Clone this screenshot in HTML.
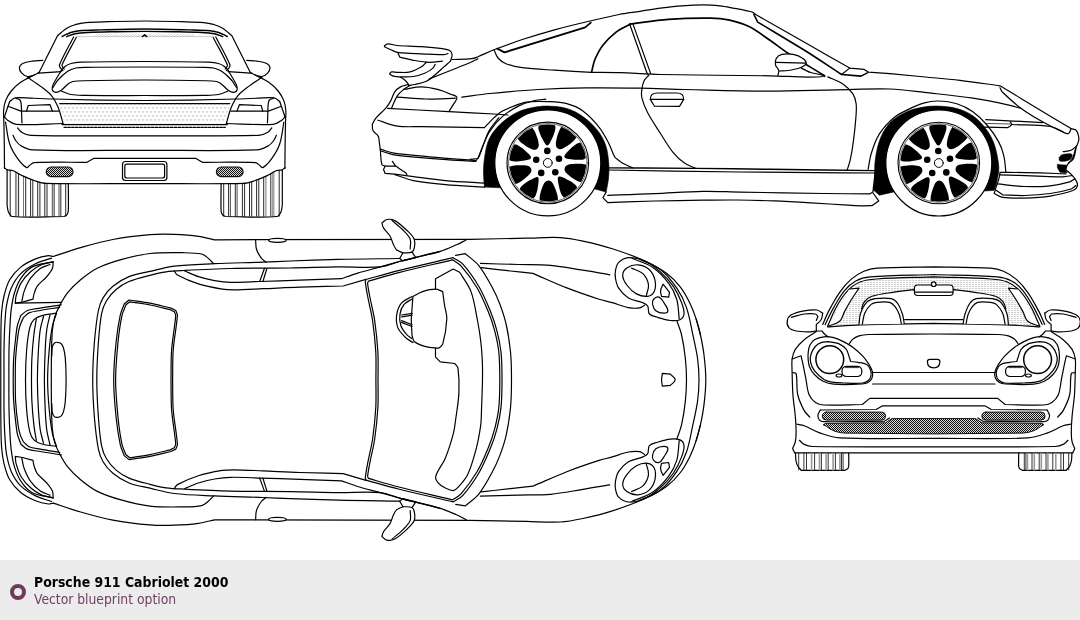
<!DOCTYPE html>
<html lang="en"><head><meta charset="utf-8"><title>Porsche 911 Cabriolet 2000 - vector blueprint</title>
<style>
html,body{margin:0;padding:0;background:#fff;}
body{width:1080px;height:620px;overflow:hidden;position:relative;font-family:"DejaVu Sans Condensed","DejaVu Sans","Liberation Sans",sans-serif;}
#bp{position:absolute;left:0;top:0;width:1080px;height:560px;display:block;}
#bp path,#bp circle,#bp ellipse,#bp rect,#bp line{fill:none;stroke:#000;stroke-width:1.2;stroke-linecap:round;stroke-linejoin:round;}
#bar{position:absolute;left:0;top:560px;width:1080px;height:60px;background:#ececec;}
#dot{position:absolute;left:10px;top:24px;width:8px;height:8px;border:4px solid #6f3a5c;border-radius:50%;}
#t1{position:absolute;left:33.5px;top:13.6px;font-size:13.9px;line-height:16px;font-weight:bold;color:#000;white-space:nowrap;will-change:transform;}
#t2{position:absolute;left:33.5px;top:30.5px;font-size:13.75px;line-height:16px;color:#70405f;white-space:nowrap;will-change:transform;}
</style></head><body>
<svg id="bp" width="1080" height="560" viewBox="0 0 1080 560">
<defs>
<pattern id="mesh" width="2" height="2" patternUnits="userSpaceOnUse"><rect width="2" height="2" style="fill:#d8d8d8;stroke:none"/><rect width="1" height="1" style="fill:#111;stroke:none"/><rect x="1" y="1" width="1" height="1" style="fill:#111;stroke:none"/></pattern>
<pattern id="dots" width="4" height="8" patternUnits="userSpaceOnUse" patternTransform="translate(60.25 107.15)"><rect x="0" y="0" width="1.5" height="1.5" style="fill:#bcbcbc;stroke:none"/><rect x="2" y="4" width="1.5" height="1.5" style="fill:#bcbcbc;stroke:none"/></pattern>
<pattern id="dots2" width="3" height="2" patternUnits="userSpaceOnUse"><rect x="0" y="0" width="1" height="1" style="fill:#c4c4c4;stroke:none"/><rect x="1.5" y="1" width="1" height="1" style="fill:#c4c4c4;stroke:none"/></pattern>
<pattern id="hatch" width="3" height="2" patternUnits="userSpaceOnUse"><rect x="0" y="0" width="2.2" height="1" style="fill:#cfcfcf;stroke:none"/></pattern>
</defs>

<g id="rear">
<path d="M38.7 73.2L57.5 35.8C58.8 34.6 60.1 33.4 61.5 32.3C63.2 30.9 64.8 29.4 66.7 28.3C69.3 26.8 72.1 25.6 75 24.7C78.5 23.7 82.1 22.9 85.8 22.6C93.3 21.9 100.8 21.9 108.3 21.7C120.4 21.4 132.6 21 144.7 21C156.8 21 169 21.4 181.1 21.7C188.6 21.9 196.1 21.9 203.6 22.6C207.3 22.9 210.9 23.7 214.4 24.7C217.3 25.6 220.1 26.8 222.7 28.3C224.6 29.4 226.2 30.9 227.9 32.3C229.3 33.4 230.6 34.6 231.9 35.8L250.7 73.2"/>
<path d="M62.1 36.5C65 35.2 67.8 33.5 70.8 32.5C73.5 31.6 76.4 31.1 79.2 30.8C86.1 30.2 93.1 30.1 100 29.9C114.9 29.5 129.8 29 144.7 29C159.6 29 174.5 29.5 189.4 29.9C196.3 30.1 203.3 30.2 210.2 30.8C213 31.1 215.9 31.6 218.6 32.5C221.6 33.5 224.4 35.2 227.3 36.5" style="stroke-width:1.4"/>
<path d="M66.7 36.7C69.5 35.7 72.1 34.4 75 33.8C79.1 33 83.3 32.7 87.5 32.5C97.2 32 107 31.9 116.7 31.7C126 31.5 135.4 31.4 144.7 31.4C154 31.4 163.4 31.5 172.7 31.7C182.4 31.9 192.2 32 201.9 32.5C206.1 32.7 210.3 33 214.4 33.8C217.3 34.4 219.9 35.7 222.7 36.7" style="stroke-width:1.4"/>
<path d="M76.7 36.6L212.7 36.6" style="stroke:#b5b5b5;stroke-width:0.7"/>
<rect x="95.8" y="34.2" width="97.8" height="2.8" style="fill:url(#dots2);stroke:none"/>
<path d="M142.4 36.6L144.6 34.7L146.8 36.6" style="stroke-width:1.4"/>
<path d="M73.6 36.9C68.9 46.2 63.5 55.3 59.4 64.9C59 65.9 60.1 67 60.4 68L62.9 70.5"/>
<path d="M215.8 36.9C220.5 46.2 225.9 55.3 230 64.9C230.4 65.9 229.3 67 229 68L226.5 70.5"/>
<path d="M76.2 37.4C71.5 46.6 66.1 55.5 62 64.9C61.6 65.8 62.7 66.6 63 67.5L64.2 69"/>
<path d="M213.2 37.4C217.9 46.6 223.3 55.5 227.4 64.9C227.8 65.8 226.7 66.6 226.4 67.5L225.2 69"/>
<path d="M42.7 60.3C39.2 60.6 35.7 60.6 32.3 61.1C29 61.6 25.6 62 22.6 63.5C21.1 64.3 19.5 65.9 19.4 67.6C19.2 69.6 20.4 71.7 21.8 73.2C23.2 74.8 25.2 76.2 27.4 76.5C29.9 76.8 32.4 75.7 34.7 74.8C36.2 74.3 37.4 73.2 38.7 72.4"/>
<path d="M246.7 60.3C250.2 60.6 253.7 60.6 257.1 61.1C260.4 61.6 263.8 62 266.8 63.5C268.3 64.3 269.9 65.9 270 67.6C270.2 69.6 269 71.7 267.6 73.2C266.2 74.8 264.2 76.2 262 76.5C259.5 76.8 257 75.7 254.7 74.8C253.2 74.3 252 73.2 250.7 72.4"/>
<path d="M38.7 73.2L61.3 71.6"/>
<path d="M250.7 73.2L228.1 71.6"/>
<path d="M34.7 74.8C30.1 77.2 25.3 79.2 21 82.1C17.4 84.6 14.1 87.6 11.3 91C8.9 93.9 7 97.1 5.6 100.6C4.4 103.7 3.9 107 3.6 110.3C3.3 113.5 3.7 116.8 3.8 120C4 128.3 4.2 136.7 4.3 145C4.4 152.8 4.4 160.6 4.5 168.4"/>
<path d="M254.7 74.8C259.3 77.2 264.1 79.2 268.4 82.1C272 84.6 275.3 87.6 278.1 91C280.5 93.9 282.4 97.1 283.8 100.6C285 103.7 285.5 107 285.8 110.3C286.1 113.5 285.7 116.8 285.6 120C285.4 128.3 285.2 136.7 285.1 145C285 152.8 285 160.6 284.9 168.4"/>
<path d="M27.4 77.3C31.7 80.2 36.2 82.9 40.3 86.1C44.2 89.1 48.4 92 51.6 95.8C54.4 99.1 56.3 103.1 58 107C59.8 111.2 60.8 115.7 62.1 120C62.4 121.2 62.7 122.3 63 123.5"/>
<path d="M262 77.3C257.7 80.2 253.2 82.9 249.1 86.1C245.2 89.1 241 92 237.8 95.8C235 99.1 233.1 103.1 231.4 107C229.6 111.2 228.6 115.7 227.3 120C227 121.2 226.7 122.3 226.4 123.5"/>
<path d="M61.3 70.5C62.5 69.2 63.5 67.6 65 66.5C66.8 65.2 68.8 64.1 71 63.5C74.1 62.6 77.4 62.3 80.6 62.2C102 61.6 123.3 61.5 144.7 61.5C166.1 61.5 187.4 61.6 208.8 62.2C212 62.3 215.3 62.6 218.4 63.5C220.6 64.1 222.6 65.2 224.4 66.5C225.9 67.6 226.9 69.2 228.1 70.5"/>
<path d="M53 87.5C54.7 85 56 82.2 58 80C60.9 76.8 64.1 73.7 67.7 71.3C70.1 69.7 73 68.7 75.8 68C78.8 67.3 81.9 67.3 85 67.3C104.9 67 124.8 67 144.7 67C164.6 67 184.5 67 204.4 67.3C207.5 67.3 210.6 67.3 213.6 68C216.4 68.7 219.3 69.7 221.7 71.3C225.3 73.7 228.5 76.8 231.4 80C233.4 82.2 234.7 85 236.4 87.5"/>
<path d="M61.3 70.5C58.6 75.2 55.5 79.6 53.2 84.5C52.5 86 51.7 87.8 52.2 89.4C52.6 90.8 54.1 92.2 55.6 92.3C57.6 92.5 59.6 91.3 61.3 90.2C64.3 88.2 66.2 84.7 69.4 82.9C71.8 81.5 74.7 81.1 77.4 81C99.8 80.1 122.3 80 144.7 80C167.1 80 189.6 80.1 212 81C214.7 81.1 217.6 81.5 220 82.9C223.2 84.7 225.1 88.2 228.1 90.2C229.8 91.3 231.8 92.5 233.8 92.3C235.3 92.2 236.8 90.8 237.2 89.4C237.7 87.8 236.9 86 236.2 84.5C233.9 79.6 230.8 75.2 228.1 70.5"/>
<path d="M61.3 91C64.5 92.2 67.6 93.9 71 94.5C75.6 95.4 80.3 95.3 85 95.4C104.9 95.7 124.8 95.5 144.7 95.5C164.6 95.5 184.5 95.7 204.4 95.4C209.1 95.3 213.8 95.4 218.4 94.5C221.8 93.9 224.9 92.2 228.1 91"/>
<path d="M9.7 101.5C11.6 100.3 13.1 98.2 15.3 97.9C20.9 97.1 26.6 98.1 32.3 98.2C39.3 98.5 46.2 98.8 53.2 99C68.8 99.5 84.4 99.9 100 100.2C114.9 100.4 129.8 100.5 144.7 100.5C159.6 100.5 174.5 100.4 189.4 100.2C205 99.9 220.6 99.5 236.2 99C243.2 98.8 250.1 98.5 257.1 98.2C262.8 98.1 268.5 97.1 274.1 97.9C276.3 98.2 277.8 100.3 279.7 101.5"/>
<path d="M9.7 101.5L8 106.3L4.2 117.5"/>
<path d="M279.7 101.5L281.4 106.3L285.2 117.5"/>
<path d="M16 98.4C17.3 98.9 19 98.9 20 100C20.9 101 21.1 102.6 21.2 104C21.7 109.3 21.6 114.7 21.8 120C21.8 121 21.9 122 22 123"/>
<path d="M273.4 98.4C272.1 98.9 270.4 98.9 269.4 100C268.5 101 268.3 102.6 268.2 104C267.7 109.3 267.8 114.7 267.6 120C267.6 121 267.5 122 267.4 123"/>
<path d="M8 106.3L21 111.1L58.5 111.1"/>
<path d="M281.4 106.3L268.4 111.1L230.9 111.1"/>
<path d="M26.6 111.1L28.2 105.5L50 104.7L52.4 111.1"/>
<path d="M262.8 111.1L261.2 105.5L239.4 104.7L237 111.1"/>
<path d="M4.5 117C5.4 118 6.1 119.3 7.3 120C10 121.7 12.8 124.1 16 124.3C31.6 125.3 47.3 123.8 63 123.5"/>
<path d="M284.9 117C284 118 283.3 119.3 282.1 120C279.4 121.7 276.6 124.1 273.4 124.3C257.8 125.3 242.1 123.8 226.4 123.5"/>
<path d="M59.7 103.9L229.7 103.9L226.4 123.5L63 123.5Z" style="fill:url(#dots);stroke:none"/>
<path d="M59.7 103.7L229.7 103.7" style="stroke-dasharray:3.2 0.8"/>
<path d="M62 124.6L227.4 124.6"/>
<path d="M64 127.3L225.4 127.3" style="stroke-dasharray:2.6 1.2"/>
<path d="M17.7 128C19.1 129.5 20.2 131.5 22 132.5C24.6 134 27.6 135.3 30.6 135.4C68.6 136.4 106.7 135.7 144.7 135.8C182.7 135.7 220.8 136.4 258.8 135.4C261.8 135.3 264.8 134 267.4 132.5C269.2 131.5 270.3 129.5 271.7 128"/>
<path d="M13 135.3C14 137.2 14.7 139.3 16 141C17.4 142.8 19 144.7 21 145.8C24.5 147.7 28.3 149.8 32.3 149.9C69.7 151.3 107.2 150.2 144.7 150.3C182.2 150.2 219.7 151.3 257.1 149.9C261.1 149.8 264.9 147.7 268.4 145.8C270.4 144.7 272 142.8 273.4 141C274.7 139.3 275.4 137.2 276.4 135.3"/>
<path d="M5.5 122C6.9 129.3 7.3 136.9 9.7 144C11.5 149.3 14.5 154.2 17.7 158.7C20.1 162.1 22.9 165.6 26.6 167.6C27.8 168.2 28.7 165.9 29.8 165.2C31.1 164.3 32.3 162.8 33.9 162.7C51.6 161.8 69.3 162.4 87 162.3L93.5 158.4L144.7 158.4L195.9 158.4L202.4 162.3C220.1 162.4 237.8 161.8 255.5 162.7C257.1 162.8 258.3 164.3 259.6 165.2C260.7 165.9 261.6 168.2 262.8 167.6C266.5 165.6 269.3 162.1 271.7 158.7C274.9 154.2 277.9 149.3 279.7 144C282.1 136.9 282.5 129.3 283.9 122"/>
<path d="M4.4 167.7L7.1 169.9C9.2 170.2 11.3 170.1 13.3 170.8C16.5 172 19.1 174.2 22.2 175.6C26.5 177.6 31 179.5 35.5 181C38.9 182.1 42.5 183.3 46.1 183.4C79 184.2 111.8 183.5 144.7 183.6C177.6 183.5 210.4 184.2 243.3 183.4C246.9 183.3 250.5 182.1 253.9 181C258.4 179.5 262.9 177.6 267.2 175.6C270.3 174.2 272.9 172 276.1 170.8C278.1 170.1 280.2 170.2 282.3 169.9L285 167.7"/>
<path d="M7.1 169.9L7.1 205C7.5 207.2 7.4 209.5 8.3 211.5C9.2 213.5 10.3 216.3 12.4 216.5C29.5 218 46.7 216.5 63.9 216.5C64.9 215.9 66.1 215.7 66.8 214.8C67.7 213.7 68.2 212.4 68.3 211C68.7 201.9 68.3 192.7 68.3 183.6"/>
<path d="M282.3 169.9L282.3 205C281.9 207.2 282 209.5 281.1 211.5C280.2 213.5 279.1 216.3 277 216.5C259.9 218 242.7 216.5 225.5 216.5C224.5 215.9 223.3 215.7 222.6 214.8C221.7 213.7 221.2 212.4 221.1 211C220.7 201.9 221.1 192.7 221.1 183.6"/>
<path d="M10.2 170.5L10.2 216.2" style="stroke-width:0.85"/>
<path d="M279.2 170.5L279.2 216.2" style="stroke-width:0.85"/>
<path d="M15.5 171.8L15.5 216.2" style="stroke-width:0.475"/>
<path d="M273.9 171.8L273.9 216.2" style="stroke-width:0.475"/>
<path d="M16.7 172.3L16.7 216.2" style="stroke-width:0.475"/>
<path d="M272.7 172.3L272.7 216.2" style="stroke-width:0.475"/>
<path d="M18.6 173.5L18.6 216.2" style="stroke-width:0.85"/>
<path d="M270.8 173.5L270.8 216.2" style="stroke-width:0.85"/>
<path d="M23.5 176.3L23.5 216.2" style="stroke-width:0.55"/>
<path d="M265.9 176.3L265.9 216.2" style="stroke-width:0.55"/>
<path d="M25.7 177.3L25.7 216.2" style="stroke-width:0.85"/>
<path d="M263.7 177.3L263.7 216.2" style="stroke-width:0.85"/>
<path d="M30.6 179.3L30.6 216.2" style="stroke-width:0.85"/>
<path d="M258.8 179.3L258.8 216.2" style="stroke-width:0.85"/>
<path d="M32.8 180L32.8 216.2" style="stroke-width:0.85"/>
<path d="M256.6 180L256.6 216.2" style="stroke-width:0.85"/>
<path d="M37.7 181.7L37.7 216.2" style="stroke-width:0.85"/>
<path d="M251.7 181.7L251.7 216.2" style="stroke-width:0.85"/>
<path d="M39.9 182.2L39.9 216.2" style="stroke-width:0.85"/>
<path d="M249.5 182.2L249.5 216.2" style="stroke-width:0.85"/>
<path d="M44.8 183.2L44.8 216.2" style="stroke-width:0.85"/>
<path d="M244.6 183.2L244.6 216.2" style="stroke-width:0.85"/>
<path d="M47 183.5L47 216.2" style="stroke-width:0.85"/>
<path d="M242.4 183.5L242.4 216.2" style="stroke-width:0.85"/>
<path d="M52.3 183.6L52.3 216.2" style="stroke-width:0.7"/>
<path d="M237.1 183.6L237.1 216.2" style="stroke-width:0.7"/>
<path d="M54.1 183.6L54.1 216.2" style="stroke-width:0.85"/>
<path d="M235.3 183.6L235.3 216.2" style="stroke-width:0.85"/>
<path d="M59 183.6L59 216.2" style="stroke-width:0.7"/>
<path d="M230.4 183.6L230.4 216.2" style="stroke-width:0.7"/>
<path d="M60.8 183.6L60.8 216.2" style="stroke-width:0.85"/>
<path d="M228.6 183.6L228.6 216.2" style="stroke-width:0.85"/>
<path d="M65.7 183.6L65.7 216.2" style="stroke-width:0.85"/>
<path d="M223.7 183.6L223.7 216.2" style="stroke-width:0.85"/>
<rect x="46.3" y="167" width="26.7" height="9.6" rx="4.8" style="fill:url(#mesh);stroke:#111;stroke-width:1.2"/>
<rect x="216.4" y="167" width="26.7" height="9.6" rx="4.8" style="fill:url(#mesh);stroke:#111;stroke-width:1.2"/>
<rect x="122.5" y="161.5" width="44.4" height="19" rx="3"/>
<rect x="124.8" y="164.2" width="39.8" height="13.8" rx="2"/>
</g>
<g id="side">
<path d="M484.4 187.1C484.1 182.4 483.5 177.7 483.5 173C483.5 168 483.7 162.9 484.5 158C485.6 151.4 486.4 144.4 489.4 138.4C492.5 132.2 497.2 126.9 502.3 122.3C507 118 512.6 114.6 518.4 111.8C523 109.6 528 108.5 533 107.5C537.7 106.6 542.6 106 547.4 106.1C553.9 106.3 560.6 106.7 566.8 108.5C572.6 110.2 578 113.1 582.9 116.6C588.3 120.5 593.2 125.1 597.4 130.3C600.9 134.6 603.7 139.6 605.5 144.8C607.5 150.5 608.2 156.6 608.7 162.6C609.2 167.8 609 173.2 608.5 178.4C608.1 183 606.9 187.5 606.1 192.1L595 189L501 187.8L484.4 187.1Z" style="fill:#000;stroke:#000;stroke-width:0.6"/>
<path d="M873.7 190.3C874 187 874.3 183.6 874.5 180.3C874.9 173.3 874.3 166.3 875.3 159.4C876.4 151.7 877.9 143.9 881 136.8C883.6 130.8 887.5 125.1 892.3 120.6C896.8 116.3 902.7 113.6 908.4 111C912.7 109.1 917.4 108.1 922 107.3C927.1 106.4 932.3 105.9 937.4 106.1C943.9 106.3 950.5 106.8 956.8 108.5C962.5 110.1 968.1 112.4 972.9 115.8C977.9 119.3 982.1 123.9 985.8 128.7C989.2 133.1 992 138 993.9 143.2C996.2 149.4 997.3 156.1 998.4 162.6C998.9 165.6 999 168.6 998.7 171.6C998.2 176 997.1 180.2 996.1 184.5C995.6 186.5 994.8 188.4 994.2 190.3L984.5 191L893.9 191.9L879.4 195.2L873.7 190.3Z" style="fill:#000;stroke:#000;stroke-width:0.6"/>
<circle cx="547.8" cy="162.9" r="53" style="fill:#fff;stroke-width:1.2"/>
<circle cx="547.8" cy="162.9" r="40.8" style="stroke-width:1.1"/>
<circle cx="547.8" cy="162.9" r="39.3" style="stroke-width:0.6"/>
<path d="M17.5 0C17.8 0.5 17.9 1.1 18.3 1.5C19.1 2.2 20.1 2.7 21 3.2C22.2 3.9 23.5 4.5 24.7 5.1C25.8 5.6 26.9 6.2 28 6.6C29.3 7.1 30.6 7.6 32 8C33.1 8.3 34.3 8.6 35.5 8.6C36.2 8.6 36.8 8.3 37.5 8.2C37.7 6.9 37.9 5.5 38.1 4.2C38.3 2.8 38.5 1.4 38.5 0C38.5 -1.4 38.3 -2.8 38.1 -4.2C37.9 -5.5 37.7 -6.9 37.5 -8.2C36.8 -8.3 36.2 -8.6 35.5 -8.6C34.3 -8.6 33.1 -8.3 32 -8C30.6 -7.6 29.3 -7.1 28 -6.6C26.9 -6.2 25.8 -5.6 24.7 -5.1C23.5 -4.5 22.2 -3.9 21 -3.2C20.1 -2.7 19.1 -2.2 18.3 -1.5C17.9 -1.1 17.8 -0.5 17.5 0Z" transform="translate(547.8 162.9) rotate(-91.5)" style="fill:#000;stroke:none"/>
<path d="M17.6 0C17.8 0.7 17.8 1.5 18.2 2.2C18.6 2.9 19.3 3.5 20 4C20.9 4.7 22 5.1 23 5.6C24.1 6.1 25.3 6.6 26.5 7C27.7 7.4 28.8 7.8 30 8.1C31.3 8.5 32.6 8.8 34 9C35.1 9.2 36.3 9.1 37.4 9.2C37.6 7.5 37.9 5.9 38.1 4.2C38.3 2.8 38.5 1.4 38.5 0C38.5 -1.4 38.3 -2.8 38.1 -4.2C37.9 -5.9 37.6 -7.5 37.4 -9.2C36.3 -9.1 35.1 -9.2 34 -9C32.6 -8.8 31.3 -8.5 30 -8.1C28.8 -7.8 27.7 -7.4 26.5 -7C25.3 -6.6 24.1 -6.1 23 -5.6C22 -5.1 20.9 -4.7 20 -4C19.3 -3.5 18.6 -2.9 18.2 -2.2C17.8 -1.5 17.8 -0.7 17.6 0Z" transform="translate(547.8 162.9) rotate(-55.5)" style="fill:#000;stroke:none"/>
<path d="M17.5 0C17.8 0.5 17.9 1.1 18.3 1.5C19.1 2.2 20.1 2.7 21 3.2C22.2 3.9 23.5 4.5 24.7 5.1C25.8 5.6 26.9 6.2 28 6.6C29.3 7.1 30.6 7.6 32 8C33.1 8.3 34.3 8.6 35.5 8.6C36.2 8.6 36.8 8.3 37.5 8.2C37.7 6.9 37.9 5.5 38.1 4.2C38.3 2.8 38.5 1.4 38.5 0C38.5 -1.4 38.3 -2.8 38.1 -4.2C37.9 -5.5 37.7 -6.9 37.5 -8.2C36.8 -8.3 36.2 -8.6 35.5 -8.6C34.3 -8.6 33.1 -8.3 32 -8C30.6 -7.6 29.3 -7.1 28 -6.6C26.9 -6.2 25.8 -5.6 24.7 -5.1C23.5 -4.5 22.2 -3.9 21 -3.2C20.1 -2.7 19.1 -2.2 18.3 -1.5C17.9 -1.1 17.8 -0.5 17.5 0Z" transform="translate(547.8 162.9) rotate(-19.5)" style="fill:#000;stroke:none"/>
<path d="M17.6 0C17.8 0.7 17.8 1.5 18.2 2.2C18.6 2.9 19.3 3.5 20 4C20.9 4.7 22 5.1 23 5.6C24.1 6.1 25.3 6.6 26.5 7C27.7 7.4 28.8 7.8 30 8.1C31.3 8.5 32.6 8.8 34 9C35.1 9.2 36.3 9.1 37.4 9.2C37.6 7.5 37.9 5.9 38.1 4.2C38.3 2.8 38.5 1.4 38.5 0C38.5 -1.4 38.3 -2.8 38.1 -4.2C37.9 -5.9 37.6 -7.5 37.4 -9.2C36.3 -9.1 35.1 -9.2 34 -9C32.6 -8.8 31.3 -8.5 30 -8.1C28.8 -7.8 27.7 -7.4 26.5 -7C25.3 -6.6 24.1 -6.1 23 -5.6C22 -5.1 20.9 -4.7 20 -4C19.3 -3.5 18.6 -2.9 18.2 -2.2C17.8 -1.5 17.8 -0.7 17.6 0Z" transform="translate(547.8 162.9) rotate(16.5)" style="fill:#000;stroke:none"/>
<path d="M17.5 0C17.8 0.5 17.9 1.1 18.3 1.5C19.1 2.2 20.1 2.7 21 3.2C22.2 3.9 23.5 4.5 24.7 5.1C25.8 5.6 26.9 6.2 28 6.6C29.3 7.1 30.6 7.6 32 8C33.1 8.3 34.3 8.6 35.5 8.6C36.2 8.6 36.8 8.3 37.5 8.2C37.7 6.9 37.9 5.5 38.1 4.2C38.3 2.8 38.5 1.4 38.5 0C38.5 -1.4 38.3 -2.8 38.1 -4.2C37.9 -5.5 37.7 -6.9 37.5 -8.2C36.8 -8.3 36.2 -8.6 35.5 -8.6C34.3 -8.6 33.1 -8.3 32 -8C30.6 -7.6 29.3 -7.1 28 -6.6C26.9 -6.2 25.8 -5.6 24.7 -5.1C23.5 -4.5 22.2 -3.9 21 -3.2C20.1 -2.7 19.1 -2.2 18.3 -1.5C17.9 -1.1 17.8 -0.5 17.5 0Z" transform="translate(547.8 162.9) rotate(52.5)" style="fill:#000;stroke:none"/>
<path d="M17.6 0C17.8 0.7 17.8 1.5 18.2 2.2C18.6 2.9 19.3 3.5 20 4C20.9 4.7 22 5.1 23 5.6C24.1 6.1 25.3 6.6 26.5 7C27.7 7.4 28.8 7.8 30 8.1C31.3 8.5 32.6 8.8 34 9C35.1 9.2 36.3 9.1 37.4 9.2C37.6 7.5 37.9 5.9 38.1 4.2C38.3 2.8 38.5 1.4 38.5 0C38.5 -1.4 38.3 -2.8 38.1 -4.2C37.9 -5.9 37.6 -7.5 37.4 -9.2C36.3 -9.1 35.1 -9.2 34 -9C32.6 -8.8 31.3 -8.5 30 -8.1C28.8 -7.8 27.7 -7.4 26.5 -7C25.3 -6.6 24.1 -6.1 23 -5.6C22 -5.1 20.9 -4.7 20 -4C19.3 -3.5 18.6 -2.9 18.2 -2.2C17.8 -1.5 17.8 -0.7 17.6 0Z" transform="translate(547.8 162.9) rotate(88.5)" style="fill:#000;stroke:none"/>
<path d="M17.5 0C17.8 0.5 17.9 1.1 18.3 1.5C19.1 2.2 20.1 2.7 21 3.2C22.2 3.9 23.5 4.5 24.7 5.1C25.8 5.6 26.9 6.2 28 6.6C29.3 7.1 30.6 7.6 32 8C33.1 8.3 34.3 8.6 35.5 8.6C36.2 8.6 36.8 8.3 37.5 8.2C37.7 6.9 37.9 5.5 38.1 4.2C38.3 2.8 38.5 1.4 38.5 0C38.5 -1.4 38.3 -2.8 38.1 -4.2C37.9 -5.5 37.7 -6.9 37.5 -8.2C36.8 -8.3 36.2 -8.6 35.5 -8.6C34.3 -8.6 33.1 -8.3 32 -8C30.6 -7.6 29.3 -7.1 28 -6.6C26.9 -6.2 25.8 -5.6 24.7 -5.1C23.5 -4.5 22.2 -3.9 21 -3.2C20.1 -2.7 19.1 -2.2 18.3 -1.5C17.9 -1.1 17.8 -0.5 17.5 0Z" transform="translate(547.8 162.9) rotate(124.5)" style="fill:#000;stroke:none"/>
<path d="M17.6 0C17.8 0.7 17.8 1.5 18.2 2.2C18.6 2.9 19.3 3.5 20 4C20.9 4.7 22 5.1 23 5.6C24.1 6.1 25.3 6.6 26.5 7C27.7 7.4 28.8 7.8 30 8.1C31.3 8.5 32.6 8.8 34 9C35.1 9.2 36.3 9.1 37.4 9.2C37.6 7.5 37.9 5.9 38.1 4.2C38.3 2.8 38.5 1.4 38.5 0C38.5 -1.4 38.3 -2.8 38.1 -4.2C37.9 -5.9 37.6 -7.5 37.4 -9.2C36.3 -9.1 35.1 -9.2 34 -9C32.6 -8.8 31.3 -8.5 30 -8.1C28.8 -7.8 27.7 -7.4 26.5 -7C25.3 -6.6 24.1 -6.1 23 -5.6C22 -5.1 20.9 -4.7 20 -4C19.3 -3.5 18.6 -2.9 18.2 -2.2C17.8 -1.5 17.8 -0.7 17.6 0Z" transform="translate(547.8 162.9) rotate(160.5)" style="fill:#000;stroke:none"/>
<path d="M17.5 0C17.8 0.5 17.9 1.1 18.3 1.5C19.1 2.2 20.1 2.7 21 3.2C22.2 3.9 23.5 4.5 24.7 5.1C25.8 5.6 26.9 6.2 28 6.6C29.3 7.1 30.6 7.6 32 8C33.1 8.3 34.3 8.6 35.5 8.6C36.2 8.6 36.8 8.3 37.5 8.2C37.7 6.9 37.9 5.5 38.1 4.2C38.3 2.8 38.5 1.4 38.5 0C38.5 -1.4 38.3 -2.8 38.1 -4.2C37.9 -5.5 37.7 -6.9 37.5 -8.2C36.8 -8.3 36.2 -8.6 35.5 -8.6C34.3 -8.6 33.1 -8.3 32 -8C30.6 -7.6 29.3 -7.1 28 -6.6C26.9 -6.2 25.8 -5.6 24.7 -5.1C23.5 -4.5 22.2 -3.9 21 -3.2C20.1 -2.7 19.1 -2.2 18.3 -1.5C17.9 -1.1 17.8 -0.5 17.5 0Z" transform="translate(547.8 162.9) rotate(196.5)" style="fill:#000;stroke:none"/>
<path d="M17.6 0C17.8 0.7 17.8 1.5 18.2 2.2C18.6 2.9 19.3 3.5 20 4C20.9 4.7 22 5.1 23 5.6C24.1 6.1 25.3 6.6 26.5 7C27.7 7.4 28.8 7.8 30 8.1C31.3 8.5 32.6 8.8 34 9C35.1 9.2 36.3 9.1 37.4 9.2C37.6 7.5 37.9 5.9 38.1 4.2C38.3 2.8 38.5 1.4 38.5 0C38.5 -1.4 38.3 -2.8 38.1 -4.2C37.9 -5.9 37.6 -7.5 37.4 -9.2C36.3 -9.1 35.1 -9.2 34 -9C32.6 -8.8 31.3 -8.5 30 -8.1C28.8 -7.8 27.7 -7.4 26.5 -7C25.3 -6.6 24.1 -6.1 23 -5.6C22 -5.1 20.9 -4.7 20 -4C19.3 -3.5 18.6 -2.9 18.2 -2.2C17.8 -1.5 17.8 -0.7 17.6 0Z" transform="translate(547.8 162.9) rotate(232.5)" style="fill:#000;stroke:none"/>
<circle cx="547.3" cy="150.9" r="3.3" style="fill:#000;stroke:none"/>
<circle cx="559.0" cy="158.7" r="3.3" style="fill:#000;stroke:none"/>
<circle cx="555.3" cy="172.3" r="3.3" style="fill:#000;stroke:none"/>
<circle cx="541.2" cy="172.9" r="3.3" style="fill:#000;stroke:none"/>
<circle cx="536.2" cy="159.7" r="3.3" style="fill:#000;stroke:none"/>
<circle cx="547.8" cy="162.9" r="4.4" style="fill:#fff;stroke-width:1"/>
<circle cx="938.8" cy="163" r="53" style="fill:#fff;stroke-width:1.2"/>
<circle cx="938.8" cy="163" r="40.8" style="stroke-width:1.1"/>
<circle cx="938.8" cy="163" r="39.3" style="stroke-width:0.6"/>
<path d="M17.5 0C17.8 0.5 17.9 1.1 18.3 1.5C19.1 2.2 20.1 2.7 21 3.2C22.2 3.9 23.5 4.5 24.7 5.1C25.8 5.6 26.9 6.2 28 6.6C29.3 7.1 30.6 7.6 32 8C33.1 8.3 34.3 8.6 35.5 8.6C36.2 8.6 36.8 8.3 37.5 8.2C37.7 6.9 37.9 5.5 38.1 4.2C38.3 2.8 38.5 1.4 38.5 0C38.5 -1.4 38.3 -2.8 38.1 -4.2C37.9 -5.5 37.7 -6.9 37.5 -8.2C36.8 -8.3 36.2 -8.6 35.5 -8.6C34.3 -8.6 33.1 -8.3 32 -8C30.6 -7.6 29.3 -7.1 28 -6.6C26.9 -6.2 25.8 -5.6 24.7 -5.1C23.5 -4.5 22.2 -3.9 21 -3.2C20.1 -2.7 19.1 -2.2 18.3 -1.5C17.9 -1.1 17.8 -0.5 17.5 0Z" transform="translate(938.8 163) rotate(-91.5)" style="fill:#000;stroke:none"/>
<path d="M17.6 0C17.8 0.7 17.8 1.5 18.2 2.2C18.6 2.9 19.3 3.5 20 4C20.9 4.7 22 5.1 23 5.6C24.1 6.1 25.3 6.6 26.5 7C27.7 7.4 28.8 7.8 30 8.1C31.3 8.5 32.6 8.8 34 9C35.1 9.2 36.3 9.1 37.4 9.2C37.6 7.5 37.9 5.9 38.1 4.2C38.3 2.8 38.5 1.4 38.5 0C38.5 -1.4 38.3 -2.8 38.1 -4.2C37.9 -5.9 37.6 -7.5 37.4 -9.2C36.3 -9.1 35.1 -9.2 34 -9C32.6 -8.8 31.3 -8.5 30 -8.1C28.8 -7.8 27.7 -7.4 26.5 -7C25.3 -6.6 24.1 -6.1 23 -5.6C22 -5.1 20.9 -4.7 20 -4C19.3 -3.5 18.6 -2.9 18.2 -2.2C17.8 -1.5 17.8 -0.7 17.6 0Z" transform="translate(938.8 163) rotate(-55.5)" style="fill:#000;stroke:none"/>
<path d="M17.5 0C17.8 0.5 17.9 1.1 18.3 1.5C19.1 2.2 20.1 2.7 21 3.2C22.2 3.9 23.5 4.5 24.7 5.1C25.8 5.6 26.9 6.2 28 6.6C29.3 7.1 30.6 7.6 32 8C33.1 8.3 34.3 8.6 35.5 8.6C36.2 8.6 36.8 8.3 37.5 8.2C37.7 6.9 37.9 5.5 38.1 4.2C38.3 2.8 38.5 1.4 38.5 0C38.5 -1.4 38.3 -2.8 38.1 -4.2C37.9 -5.5 37.7 -6.9 37.5 -8.2C36.8 -8.3 36.2 -8.6 35.5 -8.6C34.3 -8.6 33.1 -8.3 32 -8C30.6 -7.6 29.3 -7.1 28 -6.6C26.9 -6.2 25.8 -5.6 24.7 -5.1C23.5 -4.5 22.2 -3.9 21 -3.2C20.1 -2.7 19.1 -2.2 18.3 -1.5C17.9 -1.1 17.8 -0.5 17.5 0Z" transform="translate(938.8 163) rotate(-19.5)" style="fill:#000;stroke:none"/>
<path d="M17.6 0C17.8 0.7 17.8 1.5 18.2 2.2C18.6 2.9 19.3 3.5 20 4C20.9 4.7 22 5.1 23 5.6C24.1 6.1 25.3 6.6 26.5 7C27.7 7.4 28.8 7.8 30 8.1C31.3 8.5 32.6 8.8 34 9C35.1 9.2 36.3 9.1 37.4 9.2C37.6 7.5 37.9 5.9 38.1 4.2C38.3 2.8 38.5 1.4 38.5 0C38.5 -1.4 38.3 -2.8 38.1 -4.2C37.9 -5.9 37.6 -7.5 37.4 -9.2C36.3 -9.1 35.1 -9.2 34 -9C32.6 -8.8 31.3 -8.5 30 -8.1C28.8 -7.8 27.7 -7.4 26.5 -7C25.3 -6.6 24.1 -6.1 23 -5.6C22 -5.1 20.9 -4.7 20 -4C19.3 -3.5 18.6 -2.9 18.2 -2.2C17.8 -1.5 17.8 -0.7 17.6 0Z" transform="translate(938.8 163) rotate(16.5)" style="fill:#000;stroke:none"/>
<path d="M17.5 0C17.8 0.5 17.9 1.1 18.3 1.5C19.1 2.2 20.1 2.7 21 3.2C22.2 3.9 23.5 4.5 24.7 5.1C25.8 5.6 26.9 6.2 28 6.6C29.3 7.1 30.6 7.6 32 8C33.1 8.3 34.3 8.6 35.5 8.6C36.2 8.6 36.8 8.3 37.5 8.2C37.7 6.9 37.9 5.5 38.1 4.2C38.3 2.8 38.5 1.4 38.5 0C38.5 -1.4 38.3 -2.8 38.1 -4.2C37.9 -5.5 37.7 -6.9 37.5 -8.2C36.8 -8.3 36.2 -8.6 35.5 -8.6C34.3 -8.6 33.1 -8.3 32 -8C30.6 -7.6 29.3 -7.1 28 -6.6C26.9 -6.2 25.8 -5.6 24.7 -5.1C23.5 -4.5 22.2 -3.9 21 -3.2C20.1 -2.7 19.1 -2.2 18.3 -1.5C17.9 -1.1 17.8 -0.5 17.5 0Z" transform="translate(938.8 163) rotate(52.5)" style="fill:#000;stroke:none"/>
<path d="M17.6 0C17.8 0.7 17.8 1.5 18.2 2.2C18.6 2.9 19.3 3.5 20 4C20.9 4.7 22 5.1 23 5.6C24.1 6.1 25.3 6.6 26.5 7C27.7 7.4 28.8 7.8 30 8.1C31.3 8.5 32.6 8.8 34 9C35.1 9.2 36.3 9.1 37.4 9.2C37.6 7.5 37.9 5.9 38.1 4.2C38.3 2.8 38.5 1.4 38.5 0C38.5 -1.4 38.3 -2.8 38.1 -4.2C37.9 -5.9 37.6 -7.5 37.4 -9.2C36.3 -9.1 35.1 -9.2 34 -9C32.6 -8.8 31.3 -8.5 30 -8.1C28.8 -7.8 27.7 -7.4 26.5 -7C25.3 -6.6 24.1 -6.1 23 -5.6C22 -5.1 20.9 -4.7 20 -4C19.3 -3.5 18.6 -2.9 18.2 -2.2C17.8 -1.5 17.8 -0.7 17.6 0Z" transform="translate(938.8 163) rotate(88.5)" style="fill:#000;stroke:none"/>
<path d="M17.5 0C17.8 0.5 17.9 1.1 18.3 1.5C19.1 2.2 20.1 2.7 21 3.2C22.2 3.9 23.5 4.5 24.7 5.1C25.8 5.6 26.9 6.2 28 6.6C29.3 7.1 30.6 7.6 32 8C33.1 8.3 34.3 8.6 35.5 8.6C36.2 8.6 36.8 8.3 37.5 8.2C37.7 6.9 37.9 5.5 38.1 4.2C38.3 2.8 38.5 1.4 38.5 0C38.5 -1.4 38.3 -2.8 38.1 -4.2C37.9 -5.5 37.7 -6.9 37.5 -8.2C36.8 -8.3 36.2 -8.6 35.5 -8.6C34.3 -8.6 33.1 -8.3 32 -8C30.6 -7.6 29.3 -7.1 28 -6.6C26.9 -6.2 25.8 -5.6 24.7 -5.1C23.5 -4.5 22.2 -3.9 21 -3.2C20.1 -2.7 19.1 -2.2 18.3 -1.5C17.9 -1.1 17.8 -0.5 17.5 0Z" transform="translate(938.8 163) rotate(124.5)" style="fill:#000;stroke:none"/>
<path d="M17.6 0C17.8 0.7 17.8 1.5 18.2 2.2C18.6 2.9 19.3 3.5 20 4C20.9 4.7 22 5.1 23 5.6C24.1 6.1 25.3 6.6 26.5 7C27.7 7.4 28.8 7.8 30 8.1C31.3 8.5 32.6 8.8 34 9C35.1 9.2 36.3 9.1 37.4 9.2C37.6 7.5 37.9 5.9 38.1 4.2C38.3 2.8 38.5 1.4 38.5 0C38.5 -1.4 38.3 -2.8 38.1 -4.2C37.9 -5.9 37.6 -7.5 37.4 -9.2C36.3 -9.1 35.1 -9.2 34 -9C32.6 -8.8 31.3 -8.5 30 -8.1C28.8 -7.8 27.7 -7.4 26.5 -7C25.3 -6.6 24.1 -6.1 23 -5.6C22 -5.1 20.9 -4.7 20 -4C19.3 -3.5 18.6 -2.9 18.2 -2.2C17.8 -1.5 17.8 -0.7 17.6 0Z" transform="translate(938.8 163) rotate(160.5)" style="fill:#000;stroke:none"/>
<path d="M17.5 0C17.8 0.5 17.9 1.1 18.3 1.5C19.1 2.2 20.1 2.7 21 3.2C22.2 3.9 23.5 4.5 24.7 5.1C25.8 5.6 26.9 6.2 28 6.6C29.3 7.1 30.6 7.6 32 8C33.1 8.3 34.3 8.6 35.5 8.6C36.2 8.6 36.8 8.3 37.5 8.2C37.7 6.9 37.9 5.5 38.1 4.2C38.3 2.8 38.5 1.4 38.5 0C38.5 -1.4 38.3 -2.8 38.1 -4.2C37.9 -5.5 37.7 -6.9 37.5 -8.2C36.8 -8.3 36.2 -8.6 35.5 -8.6C34.3 -8.6 33.1 -8.3 32 -8C30.6 -7.6 29.3 -7.1 28 -6.6C26.9 -6.2 25.8 -5.6 24.7 -5.1C23.5 -4.5 22.2 -3.9 21 -3.2C20.1 -2.7 19.1 -2.2 18.3 -1.5C17.9 -1.1 17.8 -0.5 17.5 0Z" transform="translate(938.8 163) rotate(196.5)" style="fill:#000;stroke:none"/>
<path d="M17.6 0C17.8 0.7 17.8 1.5 18.2 2.2C18.6 2.9 19.3 3.5 20 4C20.9 4.7 22 5.1 23 5.6C24.1 6.1 25.3 6.6 26.5 7C27.7 7.4 28.8 7.8 30 8.1C31.3 8.5 32.6 8.8 34 9C35.1 9.2 36.3 9.1 37.4 9.2C37.6 7.5 37.9 5.9 38.1 4.2C38.3 2.8 38.5 1.4 38.5 0C38.5 -1.4 38.3 -2.8 38.1 -4.2C37.9 -5.9 37.6 -7.5 37.4 -9.2C36.3 -9.1 35.1 -9.2 34 -9C32.6 -8.8 31.3 -8.5 30 -8.1C28.8 -7.8 27.7 -7.4 26.5 -7C25.3 -6.6 24.1 -6.1 23 -5.6C22 -5.1 20.9 -4.7 20 -4C19.3 -3.5 18.6 -2.9 18.2 -2.2C17.8 -1.5 17.8 -0.7 17.6 0Z" transform="translate(938.8 163) rotate(232.5)" style="fill:#000;stroke:none"/>
<circle cx="938.3" cy="151.0" r="3.3" style="fill:#000;stroke:none"/>
<circle cx="950.0" cy="158.8" r="3.3" style="fill:#000;stroke:none"/>
<circle cx="946.3" cy="172.4" r="3.3" style="fill:#000;stroke:none"/>
<circle cx="932.2" cy="173.0" r="3.3" style="fill:#000;stroke:none"/>
<circle cx="927.2" cy="159.8" r="3.3" style="fill:#000;stroke:none"/>
<circle cx="938.8" cy="163" r="4.4" style="fill:#fff;stroke-width:1"/>
<path d="M450.5 61.1C451 59 452.3 56.9 452.1 54.7C452 53.1 451 51.4 449.7 50.6C447.6 49.3 444.9 49.1 442.4 48.7C435.5 47.7 428.5 47.1 421.5 46.6C413.4 46 405.3 46.1 397.3 45.5C394 45.2 390.9 43.8 387.6 43.9C386.4 43.9 385.5 45.2 384.4 45.8L384.6 46.8C386.7 47.8 388.7 48.9 390.8 49.8C393.5 50.9 396.1 52.3 398.9 52.7C406.4 53.7 414 53.6 421.5 53.9C429 54.2 436.5 54.8 444 54.7C445.4 54.7 446.7 53.9 448 53.5"/>
<path d="M398 53L399.7 57.1C404.3 58.2 408.8 59.5 413.4 60.3C418.7 61.2 424.1 62.2 429.5 62.3C433.8 62.4 438.1 61.5 442.4 61.1"/>
<path d="M426.3 62.3C424.7 63.8 423.4 65.7 421.5 66.8C418 68.9 414.2 71 410.2 71.9C406 72.9 401.6 72.4 397.3 72.4C395.4 72.4 393.5 71.5 391.6 71.9C390.6 72.1 390.2 73.3 389.5 74C390.7 74.7 391.8 75.7 393.2 76.1C395.6 76.8 398.2 76.5 400.5 77.3C402.3 78 403.9 79.2 405.3 80.5C406.6 81.6 407.4 83.2 408.5 84.5"/>
<path d="M435.2 64.4C434.4 65.7 433.9 67.4 432.7 68.4C430.3 70.4 427.6 72 424.7 73.2C421.1 74.7 417.3 75.9 413.4 76.5C409.1 77.2 404.8 76.8 400.5 76.9"/>
<path d="M450.5 61.1C448.3 63 446.2 64.9 444 66.8C441.3 69.2 438.8 71.7 436 74C432.9 76.6 429.9 79.5 426.3 81.3C422.8 83.1 418.8 83.6 415 84.5C412.9 85 410.7 85 408.5 85.3"/>
<path d="M452.1 59.5C458.6 59.2 465.1 59.4 471.5 58.7C473.7 58.5 475.8 57.6 477.9 56.8C483.3 54.6 488.5 51.9 494 49.8C503.4 46.2 512.8 42.7 522.3 39.5C532.9 36 543.7 32.8 554.5 29.8C566.3 26.6 578.1 23.8 590 21C599.6 18.7 609.3 16.4 619 14.5C626 13.2 633 12.4 640 11.3C646.8 10.3 653.5 9 660.3 8.1C667.5 7.2 674.7 6.3 682 5.8C689.3 5.2 696.6 4.8 703.9 4.8C709.3 4.8 714.7 5.3 720 5.9C724.3 6.4 728.6 7.3 732.9 8.1C736.9 8.8 741 9.5 745 10.3C747.5 10.8 749.9 11.5 752.3 12.1L756.1 14.8C772.2 24 788.4 33.1 804.5 42.3C819.6 50.9 834.6 59.5 849.7 68.1L864.2 69.4L868.2 72.1L890 73.7"/>
<path d="M429.5 78.9C437.6 75.7 445.6 72.4 453.7 69.2C459.1 67 464.5 65 469.8 62.7C472.6 61.5 475.2 60 477.9 58.7"/>
<path d="M494 49.8C495.3 52.5 496 55.7 498 58C500.1 60.5 503 62.5 506 63.7C511.2 65.8 516.8 67 522.3 67.7C533 69.1 543.8 69.5 554.5 70.2C566.9 71 579.2 71.6 591.6 72.3"/>
<path d="M497.3 48.6L504.5 52.4L585.2 27.4L590.8 22.6" style="stroke-width:1.8"/>
<path d="M591.6 72C592.7 67.9 593.2 63.6 594.8 59.7C597 54.6 599.5 49.6 602.9 45.2C606.6 40.4 611 36 615.8 32.3C620.2 28.9 625.5 26.9 630.3 24.2" style="stroke-width:1.7"/>
<path d="M629.7 24.2L647.4 74.2"/>
<path d="M632.9 23.9L650.6 73.4"/>
<path d="M629.7 24.2C642.6 22.6 655.4 20.4 668.4 19.4C682.3 18.3 696.3 17.9 710.3 18.1C716.8 18.2 723.3 18.8 729.7 20.2C736.3 21.7 742.9 23.6 749 26.6C756.5 30.3 763.1 35.6 770 40.3C776.2 44.6 782.1 49.4 788.4 53.5C800 61.1 812.1 68 823.9 75.3" style="stroke-width:1.7"/>
<path d="M591.6 72.3C601.1 72.4 610.5 72.3 620 72.6C629.1 72.9 638.3 73.5 647.4 73.9C651.7 74.1 656 74.4 660.3 74.5C696.9 75.1 733.4 75.4 770 75.8C788 76 806 78.2 823.9 76.5C829.1 76 814 73.5 809 72"/>
<path d="M753.9 14.5L757.7 22.1C773.3 31.5 789.1 40.7 804.5 50.3C817 58.1 829.2 66.4 841.6 74.5L861 76.1L867.4 72.9" style="stroke-width:1.6"/>
<path d="M841.6 74.5L849.7 68.1"/>
<path d="M777.9 75.3C778.2 73.7 779.1 72.1 778.7 70.5C778.2 68.4 775.9 66.9 775.5 64.8C775.1 62.7 775.2 60.2 776.3 58.4C777.5 56.4 779.7 54.9 781.9 54.4C785.6 53.5 789.5 53.7 793.2 54.4C796.6 55.1 800 56.4 802.9 58.4C804.5 59.5 806.4 61.3 806.1 63.2C805.7 65.3 803.2 66.5 801.3 67.3C797.2 69 792.8 69.8 788.4 70.5C785.2 71 781.9 70.8 778.7 71" style="fill:#fff"/>
<path d="M776.3 62.4L806.1 63.2"/>
<path d="M801.3 68.1L809.4 72.1"/>
<path d="M408.5 84.5C405.8 85.3 403 85.6 400.5 86.9C398.3 88.1 396.2 89.8 394.8 91.8C392.9 94.4 392.3 97.8 390.8 100.6C389.4 103.2 387.9 105.7 386 107.9C383 111.4 379.3 114.2 376.3 117.7C374.7 119.6 373.6 122 372.3 124.2C372.5 126.3 372.1 128.6 373 130.6C373.8 132.4 375.8 133.2 377.1 134.7C377.7 135.4 378.2 136.3 378.7 137.1C379.2 141.4 379.8 145.7 380.3 150C380.9 154.8 380.5 159.8 381.9 164.5C382.3 165.7 384.1 165.6 385.2 166.1L383.5 169.4L385.2 173.4L394.8 174.2C401 175 407.2 175.8 413.4 176.6C424.1 178 434.8 179.6 445.6 180.6C458.5 181.8 471.5 182.3 484.4 183.1"/>
<path d="M410 85.5C407.9 86.8 405.6 87.8 403.7 89.4C401.4 91.3 399 93.3 397.3 95.8C394.9 99.5 393.5 103.9 391.6 107.9"/>
<path d="M403.7 89.4C409.6 88.6 415.5 86.9 421.5 86.9C426.9 86.9 432.3 88.1 437.6 89.4C442 90.5 446.3 92.4 450.5 94.2C452.7 95.1 456.2 95.1 456.9 97.4C457.7 99.7 454.8 101.7 453.7 103.9L448.9 111.6"/>
<path d="M397.3 97.1C407 97.7 416.6 98.8 426.3 99C436 99.2 445.6 98.5 455.3 98.2"/>
<path d="M387.6 108.4C408 109.5 428.5 110.5 448.9 111.6C463.9 112.4 479 113.1 494 114C498.7 114.3 503.3 114.7 508 115"/>
<path d="M461.8 97.1C471.2 95.9 480.6 94.4 490 93.5C506.1 91.9 522.2 90.4 538.4 89.5C554.5 88.6 570.7 88.1 586.8 87.9C604.5 87.7 622.3 87.9 640 88.2C654.8 88.4 669.7 89.2 684.5 89.5C713 90.1 741.5 91 770 91.1C792.3 91.1 814.5 90.2 836.8 89.8C854.5 89.5 872.3 88.5 890 89C901.6 89.3 913 91.1 924.5 92.4C940.6 94.2 956.8 95.7 972.9 98.1C985.4 100 997.7 102.6 1010 105.3C1013.7 106.1 1017.3 107.4 1021 108.5"/>
<path d="M377.9 120.2C384.4 122.2 390.6 125.1 397.3 126.1C405.3 127.3 413.4 126.5 421.5 126.6C442.5 127 463.4 127.3 484.4 127.7L494 117.7C496.7 115.6 499 113 502 111.3C506.1 108.9 510.6 107.3 515 105.6C518.8 104.2 522.5 102.6 526.5 102.1C533.4 101.2 540.4 101.3 547.4 101.6C553.9 101.9 560.5 102 566.8 103.7C572.5 105.2 578.1 107.5 582.9 111C589 115.5 594.3 121.2 599 127.1C602.9 132 605.8 137.7 608.7 143.2C610.6 146.8 611.8 150.8 613.5 154.5C613.9 155.5 614.5 156.4 615 157.4C617.4 159.3 619.7 161.4 622.3 163C625.6 165 629.2 166.3 632.7 167.9"/>
<path d="M470 159.4L478 158.5C479.1 155.6 480.1 152.6 481.3 149.7C483.9 143.7 485.9 137.4 489.4 131.9C493 126.3 497.3 121 502.3 116.6C507.1 112.3 512.7 109 518.4 106.1C523.5 103.6 529 101.9 534.5 100.5C538.2 99.6 542 99.6 545.8 99.2"/>
<path d="M380.3 149.2C384.9 150.5 389.3 152.5 394 153.2C405.8 155 417.7 155.7 429.5 156.8C445.1 158.2 460.7 159.3 476.3 160.5L479.5 155.6C480.6 152.7 481.6 149.7 482.7 146.8C484.8 141.4 486.4 135.7 489.2 130.6C491.8 125.9 495.7 122 498.9 117.7"/>
<path d="M381 151C385.3 152.3 389.5 154.1 394 154.8C405.8 156.6 417.6 157.4 429.5 158.4C445 159.7 460.5 160.5 476 161.5"/>
<path d="M385.2 166.1L395.6 166.1L392.4 161.3"/>
<path d="M395.6 166.1C398.8 168.3 402.2 170.3 405.3 172.6C406 173.1 406.4 173.9 406.9 174.5"/>
<path d="M394.8 174.6C401 176.6 407 179.3 413.4 180.6C424 182.7 434.8 183.7 445.6 184.7C458.5 185.9 471.5 186.3 484.4 187.1"/>
<path d="M649 75C647.4 76.9 645.3 78.4 644.2 80.6C642.8 83.4 642.2 86.6 641.8 89.7C641.4 92.3 641.2 95.1 641.8 97.7C643.1 102.8 645 107.7 647.4 112.3C651.2 119.6 655.9 126.3 660.3 133.2C664.5 139.7 668.3 146.6 673.2 152.6C676.4 156.6 680.3 160.2 684.5 163.1C687.9 165.5 692 166.6 695.8 168.4"/>
<path d="M650.3 99.4C650.3 95 653 93 657 93L677 93C681 93 683.7 95 683.7 99.4L679.5 106.4L654.5 106.2Z"/>
<path d="M650.3 99.4L683.7 99.4"/>
<path d="M827.9 76.9C833 79.3 838.5 81 843.2 84.2C847 86.8 850.4 90.1 852.9 93.9C854.8 96.7 855.6 100.2 856.1 103.5C856.7 107.7 856.3 111.9 856 116.1C855.4 124.2 854.6 132.3 853.5 140.3C852.7 146.8 851.7 153.3 850.3 159.7C849.5 163.3 848.2 166.7 847.1 170.2"/>
<path d="M608.5 167.9C637.6 168.1 666.7 168.1 695.8 168.4C720.5 168.6 745.3 169 770 169.3C805.1 169.7 840.2 170.2 875.3 170.6" style="stroke-width:1.4"/>
<path d="M608.5 170C652.3 170.7 696.2 171.5 740 172C785.1 172.5 830.2 172.7 875.3 173"/>
<path d="M606.1 192.1L602.9 197.7L607.7 202.6C623.3 202.1 638.9 201.4 654.5 201C670.6 200.6 686.8 200.4 702.9 200.2C714.3 200.1 725.6 199.9 737 200C749.3 200.1 761.7 200.4 774 200.9C786.3 201.4 798.7 202.1 811 202.8C823.3 203.5 835.7 204.5 848 205.2C852.7 205.5 857.3 205.7 862 205.8C865.4 205.9 868.8 205.7 872.2 205.6L878.7 200.9L873.1 193"/>
<path d="M607.7 195.3C623.3 194.8 638.9 194.4 654.5 193.7C670.6 193 686.7 191.6 702.9 191.3C715.3 191.1 727.6 191.9 740 192.1C768.2 192.6 796.3 193.1 824.5 193.5C839.6 193.7 854.6 193.8 869.7 193.9L872.9 191.9L875.3 171"/>
<path d="M868.1 169.4C869.2 164 869.6 158.4 871.3 153.2C873.4 146.6 875.7 139.8 879.4 133.9C883.3 127.8 888.4 122.4 893.9 117.7C898.2 114.1 903.4 111.8 908.4 109.4C913.6 106.9 918.9 104.5 924.5 102.9C928.7 101.7 933.1 100.9 937.4 101C943.9 101.2 950.6 101.8 956.8 103.7C962.5 105.4 968 108.3 972.9 111.8C978.3 115.7 983.1 120.5 987.4 125.5C991.7 130.5 995.5 136.1 998.7 141.9C1001.1 146.3 1002.7 151.2 1003.9 156.1C1005.1 161.2 1005.2 166.4 1005.8 171.6"/>
<path d="M890 73.7C900 74.6 910 75.5 920 76.5C933.3 77.8 946.7 78.9 960 80.4C973.4 82 986.7 84 1000 85.8L1001.3 86.5C1024.5 100.5 1047.6 114.7 1071 128.4C1072.6 129.3 1074.8 129.1 1076.1 130.3C1077.4 131.5 1077.9 133.3 1078.3 135C1078.8 136.8 1079 138.8 1078.7 140.6C1078.3 142.9 1076.9 144.9 1076.1 147.1C1074.7 150.9 1074.1 155.1 1072.3 158.7C1071.1 161.2 1068.5 162.8 1067.1 165.2C1066.3 166.5 1066.2 168.2 1065.8 169.7C1067.5 171.2 1069.4 172.5 1071 174.2C1072.9 176.2 1074.8 178.2 1076.1 180.6C1077 182.2 1077.9 184.1 1077.4 185.8C1076.9 187.7 1075.4 189.6 1073.5 190.3C1066 193.1 1058.2 194.8 1050.3 196.1C1041.8 197.5 1033.1 197.9 1024.5 198.1C1017.2 198.3 1009.8 198.5 1002.6 197.4C999.5 196.9 997 194.8 994.2 193.5C994.8 191.4 995.4 189.2 996.1 187.1C996.9 184.5 998 182 998.7 179.4C999.3 177.3 999.6 175.1 1000 172.9"/>
<path d="M1000 87.7C1000.9 89.2 1001.3 91.1 1002.6 92.3C1008.7 98.2 1015 104 1021.9 109C1028.9 114.1 1036.4 118.4 1043.9 122.6C1050.2 126.1 1056.6 129.4 1063.2 132.3C1064.8 133 1066.8 134.2 1068.4 133.5C1070 132.8 1070.1 130.5 1071 129"/>
<path d="M985.8 119.6L1042.6 122.6"/>
<path d="M984.5 127.1L1007.7 127.7C1009 126.6 1010.9 126 1011.6 124.5C1012 123.6 1010.7 122.8 1010.3 121.9"/>
<path d="M985.8 123.4L1010.3 124" style="stroke-width:0.7"/>
<path d="M1011.6 124.5C1024.5 125.2 1037.5 124.7 1050.3 126.5C1054.9 127.2 1058.9 130 1063.2 131.8"/>
<path d="M1000 172.3C1008.2 172.4 1016.3 172.4 1024.5 172.6C1035.3 172.8 1046 173.1 1056.8 173.5C1059.9 173.6 1062.9 173.8 1066 174"/>
<path d="M1000 174.8C1012.5 175.2 1024.9 175.7 1037.4 176.1C1046 176.4 1054.6 176.9 1063.2 176.8C1066.3 176.7 1069.3 175.9 1072.3 175.5"/>
<path d="M997.4 183.9C1006.4 184.8 1015.4 186.2 1024.5 186.5C1033.1 186.8 1041.7 186.7 1050.3 185.8C1056.9 185.1 1063.4 183.7 1069.7 181.9C1071.6 181.3 1073.1 179.8 1074.8 178.7"/>
<path d="M996.1 190.3L1002.6 194.8C1009.9 195 1017.2 195.7 1024.5 195.5C1033.1 195.3 1041.8 194.7 1050.3 193.5C1057.3 192.5 1064.3 191.1 1071 189C1072.9 188.4 1074.3 186.7 1076 185.5"/>
<path d="M1059.4 157.4C1060.2 156.5 1060.8 155.2 1061.9 154.8C1064.8 153.9 1068 153.6 1071 153.8C1071.7 153.8 1071.9 154.9 1072.3 155.5C1071.6 156.8 1071.5 158.6 1070.3 159.4C1068.2 160.7 1065.6 161.1 1063.2 161.3C1061.9 161.4 1060.3 161.4 1059.4 160.5C1058.7 159.8 1059.4 158.4 1059.4 157.4Z" style="fill:#000;stroke:#000;stroke-width:0.6"/>
<path d="M1057.4 164.5L1067.1 165.2L1065.8 169.7L1067.1 172.9L1060 172.3L1057.4 167.7L1057.4 164.5Z" style="fill:#000;stroke:#000;stroke-width:0.6"/>
<path d="M1063.2 151.6C1065.8 151.2 1068.6 151.3 1071 150.3C1073.3 149.3 1074.9 147.3 1076.8 145.8"/>
<path d="M1076 148C1075.2 151.6 1075.1 155.4 1073.5 158.7C1072.5 160.7 1070.1 161.7 1068.4 163.2"/>
</g>
<g id="top">
<path d="M53.2 256.5C51.6 256.2 50 255.4 48.4 255.6C44 256.2 39.6 257.2 35.5 258.9C30.4 261 25.3 263.4 21 266.9C16.6 270.5 12.6 274.9 9.7 279.8C6.8 284.7 5.4 290.4 4 296C2.7 301.3 2 306.7 1.6 312.1C1 319.7 1 327.4 0.9 335C0.7 349.9 0.8 364.9 0.8 379.8C0.8 394.7 0.7 409.7 0.9 424.6C1 432.2 1 439.9 1.6 447.5C2 452.9 2.7 458.3 4 463.6C5.4 469.2 6.8 474.9 9.7 479.8C12.6 484.7 16.6 489.1 21 492.7C25.3 496.2 30.4 498.6 35.5 500.7C39.6 502.4 44 503.4 48.4 504C50 504.2 51.6 503.4 53.2 503.1"/>
<path d="M51.6 258.1C46.2 260 40.6 261.2 35.5 263.7C30.3 266.3 25.1 269.3 21 273.4C16.9 277.5 13.7 282.6 11.3 287.9C8.8 293.5 7.6 299.6 6.5 305.6C5.4 312 5.2 318.5 4.8 325C4.3 333.3 4.1 341.7 4 350C3.9 359.9 4 369.9 4 379.8C4 389.7 3.9 399.7 4 409.6C4.1 417.9 4.3 426.3 4.8 434.6C5.2 441.1 5.4 447.6 6.5 454C7.6 460 8.8 466.1 11.3 471.7C13.7 477 16.9 482.1 21 486.2C25.1 490.3 30.3 493.3 35.5 495.9C40.6 498.4 46.2 499.6 51.6 501.5"/>
<path d="M53.2 261.8C46.2 263.5 38.7 263.6 32.3 266.9C27.6 269.3 24 273.8 21 278.2C18 282.6 16.1 287.6 14.5 292.7C12.8 297.9 12.1 303.4 11.3 308.9C10.6 314.2 10.3 319.6 10 325C9.5 333.3 9.2 341.7 9 350C8.8 359.9 8.9 369.9 8.9 379.8C8.9 389.7 8.8 399.7 9 409.6C9.2 417.9 9.5 426.3 10 434.6C10.3 440 10.6 445.4 11.3 450.7C12.1 456.2 12.8 461.7 14.5 466.9C16.1 472 18 477 21 481.4C24 485.8 27.6 490.3 32.3 492.7C38.7 496 46.2 496.1 53.2 497.8"/>
<path d="M53.2 256.5C62.3 253.5 71.4 250.2 80.6 247.6C91.3 244.6 102 241.5 112.9 239.5C125.2 237.2 137.6 235.7 150 234.7C158 234 166.1 234.1 174.2 234.4C182.3 234.7 190.4 235.2 198.4 236.3C203.8 237 209.1 238.6 214.5 239.8L470 239.3C488.8 238.9 507.7 238.6 526.5 238.2C537.8 238 549 237 560.3 237.6C567.9 238 575.4 239.5 582.9 241.1C592.8 243.2 602.7 245.6 612.3 248.7C623.2 252.2 634.1 256 644.5 260.8C652.4 264.4 660.1 268.6 667.1 273.7C672 277.3 676.3 281.8 680 286.6C683.9 291.5 686.9 297.1 689.7 302.7C692.3 307.9 694.3 313.4 696.1 318.9C697.9 324.2 699 329.6 700.5 335"/>
<path d="M53.2 503.1C62.3 506.1 71.4 509.4 80.6 512C91.3 515 102 518.1 112.9 520.1C125.2 522.4 137.6 523.9 150 524.9C158 525.6 166.1 525.5 174.2 525.2C182.3 524.9 190.4 524.4 198.4 523.3C203.8 522.6 209.1 521 214.5 519.8L470 520.3C488.8 520.7 507.7 521 526.5 521.4C537.8 521.6 549 522.6 560.3 522C567.9 521.6 575.4 520.1 582.9 518.5C592.8 516.4 602.7 514 612.3 510.9C623.2 507.4 634.1 503.6 644.5 498.8C652.4 495.2 660.1 491 667.1 485.9C672 482.3 676.3 477.8 680 473C683.9 468.1 686.9 462.5 689.7 456.9C692.3 451.7 694.3 446.2 696.1 440.7C697.9 435.4 699 430 700.5 424.6"/>
<path d="M696.1 318.9C697.6 324.3 699.3 329.6 700.5 335C701.9 341.6 703.2 348.3 704 355C705 363.2 705.8 371.5 705.8 379.8C705.8 388.1 705 396.4 704 404.6C703.2 411.3 701.9 418 700.5 424.6C699.3 430 697.6 435.3 696.1 440.7"/>
<path d="M639.7 259.2C646.7 262.7 654.5 264.9 660.6 269.7C667.1 274.7 672.2 281.4 676.8 288.2C680.9 294.2 684.1 300.8 686.5 307.6C689.6 316.5 690.9 325.8 692.9 335C694.6 342.6 696.4 350.3 697.5 358C698.5 365.2 699 372.5 699 379.8C699 387.1 698.5 394.4 697.5 401.6C696.4 409.3 694.6 417 692.9 424.6C690.9 433.8 689.6 443.1 686.5 452C684.1 458.8 680.9 465.4 676.8 471.4C672.2 478.2 667.1 484.9 660.6 489.9C654.5 494.7 646.7 496.9 639.7 500.4"/>
<path d="M676.8 320.5C678.4 325.3 680.5 330 681.6 335C683.3 342.6 684.5 350.3 685.3 358C686.1 365.2 686.5 372.5 686.5 379.8C686.5 387.1 686.1 394.4 685.3 401.6C684.5 409.3 683.3 417 681.6 424.6C680.5 429.6 678.4 434.3 676.8 439.1"/>
<path d="M53.2 261.8C52.9 264 53.3 266.4 52.4 268.5C51.1 271.5 48.9 274.1 46.8 276.6C43.8 280.1 39.8 282.6 37.1 286.3C35.4 288.7 34.8 291.6 33.9 294.4C33.4 296 33.3 297.6 33 299.2L22.6 302.1L15.3 303.2C15.6 300.8 15.4 298.3 16.1 296C17.4 291.6 18.6 287 21 283.1C23.5 278.9 26.9 275.1 30.6 271.8C33.9 268.8 37.8 266.3 41.9 264.5C45.4 262.9 49.4 262.7 53.2 261.8"/>
<path d="M53.2 497.8C52.9 495.6 53.3 493.2 52.4 491.1C51.1 488.1 48.9 485.5 46.8 483C43.8 479.5 39.8 477 37.1 473.3C35.4 470.9 34.8 468 33.9 465.2C33.4 463.6 33.3 462 33 460.4L22.6 457.5L15.3 456.4C15.6 458.8 15.4 461.3 16.1 463.6C17.4 468 18.6 472.6 21 476.5C23.5 480.7 26.9 484.5 30.6 487.8C33.9 490.8 37.8 493.3 41.9 495.1C45.4 496.7 49.4 496.9 53.2 497.8"/>
<path d="M50 264.5C46.8 265.8 43.2 266.5 40.3 268.5C36.6 271.1 33.3 274.5 30.6 278.2C27.8 282.1 25.9 286.6 24.2 291.1C22.9 294.5 22.6 298.1 21.8 301.6"/>
<path d="M50 495.1C46.8 493.8 43.2 493.1 40.3 491.1C36.6 488.5 33.3 485.1 30.6 481.4C27.8 477.5 25.9 473 24.2 468.5C22.9 465.1 22.6 461.5 21.8 458"/>
<path d="M15.3 303.2L61.3 302.4"/>
<path d="M213.7 263.7C211.8 261.8 210.1 259.8 208 258.1C206 256.5 204.1 254.5 201.6 254C195.3 252.7 188.7 252.8 182.3 252.7C171.5 252.6 160.7 252.3 150 253.5C140.2 254.6 130.5 257 121 259.7C112.7 262 104.5 264.7 96.8 268.5C90.9 271.4 85.7 275.6 80.6 279.8C75.9 283.7 71.5 288 67.7 292.7C64.5 296.6 62.1 301.1 59.7 305.6C57.8 309.2 56 313 54.8 316.9C53.5 321.2 52.8 325.6 52.4 330C51.7 337.3 51.7 344.7 51.5 352C51.3 361.3 51.3 370.5 51.3 379.8C51.3 389.1 51.3 398.3 51.5 407.6C51.7 414.9 51.7 422.3 52.4 429.6C52.8 434 53.5 438.4 54.8 442.7C56 446.6 57.8 450.4 59.7 454C62.1 458.5 64.5 463 67.7 466.9C71.5 471.6 75.9 475.9 80.6 479.8C85.7 484 90.9 488.2 96.8 491.1C104.5 494.9 112.7 497.6 121 499.9C130.5 502.6 140.2 505 150 506.1C160.7 507.3 171.5 507 182.3 506.9C188.7 506.8 195.3 506.9 201.6 505.6C204.1 505.1 206 503.1 208 501.5C210.1 499.8 211.8 497.8 213.7 495.9"/>
<path d="M61.3 304.8C54.3 305.9 47.3 306.9 40.3 308.1C36 308.8 31.5 309 27.4 310.5C24.9 311.4 23.1 313.7 21 315.3C19.8 318.5 18.4 321.7 17.5 325C16.7 328 16.5 331.1 16.1 334.2C15.2 342.3 14.2 350.3 13.7 358.4C13.2 365.5 13.2 372.7 13.2 379.8C13.2 386.9 13.2 394.1 13.7 401.2C14.2 409.3 15.2 417.3 16.1 425.4C16.5 428.5 16.7 431.6 17.5 434.6C18.4 437.9 19.8 441.1 21 444.3C23.1 445.9 24.9 448.2 27.4 449.1C31.5 450.6 36 450.8 40.3 451.5C47.3 452.7 54.3 453.7 61.3 454.8"/>
<path d="M59.7 307.3C53.2 308.4 46.7 309.3 40.3 310.5C36.5 311.2 32.5 311.4 29 312.9C26.7 313.9 25.3 316.1 23.4 317.7C22.3 320.1 21 322.5 20.2 325C19.2 328 18.5 331.1 18.1 334.2C17 342.2 16.1 350.3 15.6 358.4C15.2 365.5 15.3 372.7 15.3 379.8C15.3 386.9 15.2 394.1 15.6 401.2C16.1 409.3 17 417.4 18.1 425.4C18.5 428.5 19.2 431.6 20.2 434.6C21 437.1 22.3 439.5 23.4 441.9C25.3 443.5 26.7 445.7 29 446.7C32.5 448.2 36.5 448.4 40.3 449.1C46.7 450.3 53.2 451.2 59.7 452.3"/>
<path d="M56.5 313.2C51.6 314 46.6 314.2 41.9 315.6C39 316.4 36 317.6 33.9 319.7C31.8 321.8 30.5 324.8 29.8 327.7C28 335.1 27.2 342.7 26.6 350.3C25.8 360.1 25.5 370 25.5 379.8C25.5 389.6 25.8 399.5 26.6 409.3C27.2 416.9 28 424.5 29.8 431.9C30.5 434.8 31.8 437.8 33.9 439.9C36 442 39 443.2 41.9 444C46.6 445.4 51.6 445.6 56.5 446.4"/>
<path d="M36.3 319.2C35.5 324.2 34.5 329.2 33.9 334.2C33 342.2 32.3 350.3 31.9 358.4C31.5 365.5 31.5 372.7 31.5 379.8C31.5 386.9 31.5 394.1 31.9 401.2C32.3 409.3 33 417.4 33.9 425.4C34.5 430.4 35.5 435.4 36.3 440.4"/>
<path d="M43.5 316.5C42.4 320.8 41 325 40.3 329.4C39.3 336.3 38.8 343.3 38.4 350.3C37.8 360.1 37.4 370 37.4 379.8C37.4 389.6 37.8 399.5 38.4 409.3C38.8 416.3 39.3 423.3 40.3 430.2C41 434.6 42.4 438.8 43.5 443.1"/>
<path d="M50 314.8C48.9 319.7 47.5 324.5 46.8 329.4C45.9 336.3 45.5 343.3 45.2 350.3C44.7 360.1 44.4 370 44.4 379.8C44.4 389.6 44.7 399.5 45.2 409.3C45.5 416.3 45.9 423.3 46.8 430.2C47.5 435.1 48.9 439.9 50 444.8"/>
<path d="M56.5 313.2C55.1 317.5 53.3 321.7 52.4 326.1C50.8 334.1 49.9 342.2 49.2 350.3C48.3 360.1 47.6 370 47.6 379.8C47.6 389.6 48.3 399.5 49.2 409.3C49.9 417.4 50.8 425.5 52.4 433.5C53.3 437.9 55.1 442.1 56.5 446.4"/>
<path d="M51.8 356C52 353 51.7 349.9 52.3 347C52.6 345.5 53.4 344 54.5 343C55.2 342.3 56.3 342.2 57.3 342.3C58.6 342.4 60 342.6 61 343.5C62.3 344.7 63 346.4 63.5 348C64.5 351.4 65 354.9 65.3 358.4C65.9 365.5 66.1 372.7 66.1 379.8C66.1 386.9 65.9 394.1 65.3 401.2C65 404.7 64.5 408.2 63.5 411.6C63 413.2 62.3 414.9 61 416.1C60 417 58.6 417.2 57.3 417.3C56.3 417.4 55.2 417.3 54.5 416.6C53.4 415.6 52.6 414.1 52.3 412.6C51.7 409.7 52 406.6 51.8 403.6"/>
<path d="M440.3 251.3C427.3 254.5 414.3 257.6 401.3 261C394.3 262.8 387.5 266.2 380.3 266.9C366.4 268.2 352.4 266.7 338.4 266.9C322.3 267.1 306.1 267.8 290 268C270.2 268.3 250.4 268 230.6 268.5C215 268.9 199.5 269.7 183.9 270.5C178 270.8 172 271 166.1 271.8C160.7 272.6 155.3 273.9 150 275.3C142.9 277.1 135.7 278.7 129 281.5C124.3 283.5 119.9 286.2 116.1 289.5C112.3 292.7 109 296.6 106.5 300.8C104.1 304.7 102.5 309.2 101.6 313.7C99.8 323.1 99.1 332.7 98.4 342.3C97.5 354.8 96.8 367.3 96.8 379.8C96.8 392.3 97.5 404.8 98.4 417.3C99.1 426.9 99.8 436.5 101.6 445.9C102.5 450.4 104.1 454.9 106.5 458.8C109 463 112.3 466.9 116.1 470.1C119.9 473.4 124.3 476.1 129 478.1C135.7 480.9 142.9 482.5 150 484.3C155.3 485.7 160.7 487 166.1 487.8C172 488.6 178 488.8 183.9 489.1C199.5 489.9 215 490.7 230.6 491.1C250.4 491.6 270.2 491.3 290 491.6C306.1 491.8 322.3 492.5 338.4 492.7C352.4 492.9 366.4 491.4 380.3 492.7C387.5 493.4 394.3 496.8 401.3 498.6C414.3 502 427.3 505.1 440.3 508.3"/>
<path d="M399.7 258.5C379.3 258.8 358.8 258.9 338.4 259.4C322.3 259.8 306.1 260.4 290 261C281 261.3 271.9 261.8 262.9 262.1C246.8 262.7 230.6 263 214.5 263.7C201.1 264.3 187.6 264.5 174.2 266.1C166 267.1 158 269.5 150 271.4C143 273 135.7 273.9 129 276.6C123.2 278.9 117.8 282.3 112.9 286.3C109.1 289.4 105.8 293.3 103.2 297.6C100.8 301.5 99.3 306 98.4 310.5C96.3 321 95.3 331.7 94.4 342.3C93.4 354.8 92.7 367.3 92.7 379.8C92.7 392.3 93.4 404.8 94.4 417.3C95.3 427.9 96.3 438.6 98.4 449.1C99.3 453.6 100.8 458.1 103.2 462C105.8 466.3 109.1 470.2 112.9 473.3C117.8 477.3 123.2 480.7 129 483C135.7 485.7 143 486.6 150 488.2C158 490.1 166 492.5 174.2 493.5C187.6 495.1 201.1 495.3 214.5 495.9C230.6 496.6 246.8 496.9 262.9 497.5C271.9 497.8 281 498.3 290 498.6C306.1 499.2 322.3 499.8 338.4 500.2C358.8 500.7 379.3 500.8 399.7 501.1"/>
<path d="M172.6 379.8C172.8 369.9 172.5 359.9 173.2 350C174.1 338.4 176.6 326.9 177.4 315.3C177.5 313.6 176.3 312.1 175.8 310.5L171 308.1C164 306.5 157.1 304.6 150 303.2C143 301.9 136 301.1 129 300L124.2 304C122.9 307.8 121 311.4 120.2 315.3C118.3 324.2 117 333.2 116.1 342.3C114.8 354.8 113.7 367.3 113.7 379.8C113.7 392.3 114.8 404.8 116.1 417.3C117 426.4 118.3 435.4 120.2 444.3C121 448.2 122.9 451.8 124.2 455.6L129 459.6C136 458.5 143 457.7 150 456.4C157.1 455 164 453.1 171 451.5L175.8 449.1C176.3 447.5 177.5 446 177.4 444.3C176.6 432.7 174.1 421.2 173.2 409.6C172.5 399.7 172.8 389.7 172.6 379.8"/>
<path d="M171 379.8C171.2 369.9 170.9 359.9 171.6 350C172.4 338.5 174.9 327.1 175.7 315.6C175.8 314.3 174.8 313.1 174.3 311.8L170.2 309.7C163.5 308.1 156.8 306.3 150 305C143.3 303.7 136.5 302.9 129.8 301.8L126 304.8C124.7 308.3 122.8 311.6 122 315.3C120.1 324.2 118.9 333.2 118 342.3C116.8 354.8 115.6 367.3 115.6 379.8C115.6 392.3 116.8 404.8 118 417.3C118.9 426.4 120.1 435.4 122 444.3C122.8 448 124.7 451.3 126 454.8L129.8 457.8C136.5 456.7 143.3 455.9 150 454.6C156.8 453.3 163.5 451.5 170.2 449.9L174.3 447.8C174.8 446.5 175.8 445.3 175.7 444C174.9 432.5 172.4 421.1 171.6 409.6C170.9 399.7 171.2 389.7 171 379.8"/>
<path d="M174.2 271C175.3 272.3 175.9 274.2 177.4 275C184.1 278.6 191.1 281.6 198.4 283.9C206.3 286.4 214.5 287.8 222.6 289.2C226.3 289.8 230.1 289.8 233.9 289.8C243.6 289.7 253.2 289.1 262.9 288.7C275.3 288.2 287.6 287.5 300 287.1C314.4 286.6 328.8 286.4 343.2 286L366 279.3"/>
<path d="M174.2 488.6C175.3 487.3 175.9 485.4 177.4 484.6C184.1 481 191.1 478 198.4 475.7C206.3 473.2 214.5 471.8 222.6 470.4C226.3 469.8 230.1 469.8 233.9 469.8C243.6 469.9 253.2 470.5 262.9 470.9C275.3 471.4 287.6 472.1 300 472.5C314.4 473 328.8 473.2 343.2 473.6L366 480.3"/>
<path d="M184.7 271C189.3 272.9 193.7 275.1 198.4 276.6C203.7 278.3 209.1 279.6 214.5 280.6C219.8 281.5 225.2 282.2 230.6 282.3C240.3 282.5 250 281.8 259.7 281.5C273.1 281.1 286.6 280.7 300 280.2C313.9 279.7 327.7 279.2 341.6 278.7C347 276.8 352.3 274.8 357.7 273.1C365.2 270.8 372.8 269 380.3 266.9C387.3 265 394.3 262.8 401.3 261C414.3 257.6 427.4 255.1 440.3 251.3C445.9 249.7 451.2 247.1 456.5 244.8C459.8 243.4 462.9 241.6 466.1 240"/>
<path d="M184.7 488.6C189.3 486.7 193.7 484.5 198.4 483C203.7 481.3 209.1 480 214.5 479C219.8 478.1 225.2 477.4 230.6 477.3C240.3 477.1 250 477.8 259.7 478.1C273.1 478.5 286.6 478.9 300 479.4C313.9 479.9 327.7 480.4 341.6 480.9C347 482.8 352.3 484.8 357.7 486.5C365.2 488.8 372.8 490.6 380.3 492.7C387.3 494.6 394.3 496.8 401.3 498.6C414.3 502 427.4 504.5 440.3 508.3C445.9 509.9 451.2 512.5 456.5 514.8C459.8 516.2 462.9 518 466.1 519.6"/>
<path d="M264.5 268.2L259.7 281.5"/>
<path d="M264.5 491.4L259.7 478.1"/>
<path d="M266.9 268.5L262.9 281.5"/>
<path d="M266.9 491.1L262.9 478.1"/>
<path d="M255.6 240C255.9 243.1 255.6 246.3 256.5 249.2C257.5 252.4 259.3 255.4 261.3 258.1C262.5 259.8 264.5 260.8 266.1 262.1"/>
<path d="M255.6 519.6C255.9 516.5 255.6 513.3 256.5 510.4C257.5 507.2 259.3 504.2 261.3 501.5C262.5 499.8 264.5 498.8 266.1 497.5"/>
<ellipse cx="277.4" cy="240.3" rx="8.8" ry="2" style="fill:#fff"/>
<ellipse cx="277.4" cy="519.3" rx="8.8" ry="2" style="fill:#fff"/>
<path d="M381.9 223.1C383.5 221.9 384.8 219.9 386.8 219.5C389.4 219 392.4 219.3 394.8 220.6C399.6 223.3 403.7 227.3 407.7 231.1C410.2 233.5 412.9 236 414.2 239.2C415.2 241.7 414.9 244.6 414.4 247.3C414.1 249.1 413.4 251.3 411.8 252.1C409.1 253.4 405.9 252.6 402.9 252.9C400.8 251.8 398.3 251.3 396.5 249.7C394.9 248.2 394.1 246 393.2 244C392 241.4 391.5 238.5 390 236C388.2 233 385.3 230.8 383.5 227.9C382.6 226.5 382.4 224.7 381.9 223.1Z" style="fill:#fff"/>
<path d="M381.9 536.5C383.5 537.7 384.8 539.7 386.8 540.1C389.4 540.6 392.4 540.3 394.8 539C399.6 536.3 403.7 532.3 407.7 528.5C410.2 526.1 412.9 523.6 414.2 520.4C415.2 517.9 414.9 515 414.4 512.3C414.1 510.5 413.4 508.3 411.8 507.5C409.1 506.2 405.9 507 402.9 506.7C400.8 507.8 398.3 508.3 396.5 509.9C394.9 511.4 394.1 513.6 393.2 515.6C392 518.2 391.5 521.1 390 523.6C388.2 526.6 385.3 528.8 383.5 531.7C382.6 533.1 382.4 534.9 381.9 536.5Z" style="fill:#fff"/>
<path d="M392 220.5C395.8 223.8 400 226.9 403.5 230.5C406.1 233.1 408.9 235.8 410.2 239.2C411.3 242.2 410.2 245.7 410.2 248.9"/>
<path d="M392 539.1C395.8 535.8 400 532.7 403.5 529.1C406.1 526.5 408.9 523.8 410.2 520.4C411.3 517.4 410.2 513.9 410.2 510.7"/>
<path d="M402.9 252.9L399.7 258.5L402.9 261L415.8 257.7L412.2 252.3"/>
<path d="M402.9 506.7L399.7 501.1L402.9 498.6L415.8 501.9L412.2 507.3"/>
<path d="M375.9 379.8C375.9 370.6 376.3 361.5 375.8 352.3C375.2 341.7 374.1 331.1 372.6 320.6C371.4 312.5 369.2 304.6 367.7 296.5C366.8 291.7 365.8 286.8 365.3 281.9C365.2 281.1 365.8 280.3 366.1 279.5C376.9 276.5 387.6 273.3 398.4 270.6C416.6 266 434.9 262 453.2 257.7C456.4 259.9 460.3 261.3 462.9 264.2C469 271.1 474.3 278.8 479 286.8C483.5 294.5 486.9 302.8 490.3 311C492.9 317.3 495.1 323.7 496.8 330.3C498.7 337.4 500.2 344.7 501 352C502 361.2 502 370.5 502 379.8C502 389.1 502 398.4 501 407.6C500.2 414.9 498.7 422.2 496.8 429.3C495.1 435.9 492.9 442.3 490.3 448.6C486.9 456.8 483.5 465.1 479 472.8C474.3 480.8 469 488.5 462.9 495.4C460.3 498.3 456.4 499.7 453.2 501.9C434.9 497.6 416.6 493.6 398.4 489C387.6 486.3 376.9 483.1 366.1 480.1C365.8 479.3 365.2 478.5 365.3 477.7C365.8 472.8 366.8 467.9 367.7 463.1C369.2 455 371.4 447.1 372.6 439C374.1 428.5 375.2 417.9 375.8 407.3C376.3 398.1 375.9 389 375.9 379.8"/>
<path d="M378 379.8C378 370.6 378.4 361.5 377.9 352.3C377.3 341.7 376.2 331.1 374.7 320.6C373.5 312.5 371.3 304.6 369.8 296.5C369 292.1 368 287.7 367.6 283.2C367.5 282.5 368.2 281.9 368.5 281.2C378.6 278.3 388.6 275.2 398.8 272.6C416.6 268.1 434.6 264.1 452.5 259.8C455.3 261.8 458.7 263.2 461 265.8C467 272.6 472.4 280 477 287.8C481.5 295.3 484.9 303.5 488.2 311.6C490.8 317.8 493 324.3 494.7 330.8C496.5 337.8 498.1 344.8 498.8 352C499.8 361.2 499.8 370.5 499.8 379.8C499.8 389.1 499.8 398.4 498.8 407.6C498.1 414.8 496.5 421.8 494.7 428.8C493 435.3 490.8 441.8 488.2 448C484.9 456.1 481.5 464.3 477 471.8C472.4 479.6 467 487 461 493.8C458.7 496.4 455.3 497.8 452.5 499.8C434.6 495.5 416.6 491.5 398.8 487C388.6 484.4 378.6 481.3 368.5 478.4C368.2 477.7 367.5 477.1 367.6 476.4C368 471.9 369 467.5 369.8 463.1C371.3 455 373.5 447.1 374.7 439C376.2 428.5 377.3 417.9 377.9 407.3C378.4 398.1 378 389 378 379.8"/>
<path d="M455.6 255.3L465.3 253.7C469.9 257.7 475.2 261.1 479 265.8C484.1 272.2 488 279.6 491.9 286.8C495 292.5 497.7 298.4 500 304.5C502.5 311.2 504.8 318 506.3 325C508.3 333.9 509.6 342.9 510.5 352C511.4 361.2 511.5 370.5 511.5 379.8C511.5 389.1 511.4 398.4 510.5 407.6C509.6 416.7 508.3 425.7 506.3 434.6C504.8 441.6 502.5 448.4 500 455.1C497.7 461.2 495 467.1 491.9 472.8C488 480 484.1 487.4 479 493.8C475.2 498.5 469.9 501.9 465.3 505.9L455.6 504.3"/>
<path d="M435.5 357.1L435.5 278.7L453.2 269L459.7 272.3C463.5 278.7 468.4 284.6 471 291.6C474.4 300.7 475.5 310.5 477.4 320C478.7 326.6 479.8 333.3 480.6 340C481.4 346.6 482 353.3 482.3 360C482.6 366.6 482.6 373.2 482.5 379.8C482.3 389.9 481.9 399.9 481.5 410C481.3 415.4 481.4 420.8 480.6 426.1C479.4 434.2 477.9 442.4 475.8 450.3C473.6 458.5 471.4 466.8 467.7 474.5C465.4 479.4 461.6 483.4 458 487.4C456.7 488.8 455.1 490.5 453.2 490.6C450.3 490.7 447.6 489.1 445 487.8C442.4 486.4 439.7 484.9 437.9 482.6C436.5 480.8 435.1 478.3 435.8 476.1C437.7 469.7 442.6 464.6 445.2 458.4C448.5 450.6 451 442.4 453.2 434.2C454.5 429.6 454.9 424.8 455.6 420C456.8 410.9 458.5 401.8 458.9 392.6C459.3 384.5 459.1 376.4 458 368.4C457.7 366.5 455.9 365.1 454.8 363.5L440.3 361.9L435.5 357.1"/>
<path d="M412.9 296.5C416.1 294.9 419.2 292.7 422.6 291.6C426.8 290.3 431.1 289.2 435.5 289.2C438 289.2 440.3 290.8 442.7 291.6C443.3 295.9 443.8 300.2 444.4 304.5C445.1 309.3 447 314.1 446.8 319C446.4 327.5 445 336 442.7 344.2C442.2 346 440 346.9 438.7 348.2C434.4 347.7 430 347.7 425.8 346.6C421.8 345.6 417.7 344.3 414.5 341.8C412.9 340.5 412.9 338 412.1 336.1C411.8 330.7 411.3 325.4 411.3 320C411.3 316 411.8 312 412.1 308C412.4 304.2 412.6 300.3 412.9 296.5C412.9 296.5 412.9 296.5 412.9 296.5Z" style="fill:#fff"/>
<path d="M412.1 296.5C408.6 298.6 404.3 299.8 401.6 302.9C398.9 306 397.5 310.2 396.8 314.2C396.1 318.5 396.2 323 397.6 327.1C398.9 330.9 402 333.9 404.8 336.8C407.1 339.2 410.2 340.7 412.9 342.6"/>
<path d="M412.1 299C409.4 300.8 406 301.9 404 304.5C401.8 307.2 400.5 310.7 400 314.2C399.4 317.9 399.6 321.9 400.8 325.5C401.9 328.9 404.2 331.7 406.5 334.4C407.9 336.1 410 337.1 411.8 338.5"/>
<path d="M401.6 315L412.1 313.4"/>
<path d="M401.8 316.8L412.1 315.2"/>
<path d="M401.6 320.6L412.1 324.7"/>
<path d="M401.4 322.4L412 326.5"/>
<path d="M480.5 263.4C493.1 263.8 505.8 264.2 518.4 264.5C529.1 264.8 539.9 264.4 550.6 265.3C561.4 266.3 572.1 268.5 582.9 270.2C591.9 271.6 600.8 273.3 609.8 274.8"/>
<path d="M480.5 496.2C493.1 495.8 505.8 495.4 518.4 495.1C529.1 494.8 539.9 495.2 550.6 494.3C561.4 493.3 572.1 491.1 582.9 489.4C591.9 488 600.8 486.3 609.8 484.8"/>
<path d="M481.3 267.7C491 268.8 500.6 269.9 510.3 271C517.8 271.8 525.4 272.6 532.9 273.4C544.2 278.2 555.4 283.4 566.8 287.9C577.4 292 588.2 295.7 599 299.2C603.4 300.6 607.9 301.4 612.3 302.7C617.7 304.2 622.9 306.6 628.4 307.6C632.1 308.3 636 308.5 639.7 307.9C641.5 307.6 642.9 306.1 644.5 305.2"/>
<path d="M481.3 491.9C491 490.8 500.6 489.7 510.3 488.6C517.8 487.8 525.4 487 532.9 486.2C544.2 481.4 555.4 476.2 566.8 471.7C577.4 467.6 588.2 463.9 599 460.4C603.4 459 607.9 458.2 612.3 456.9C617.7 455.4 622.9 453 628.4 452C632.1 451.3 636 451.1 639.7 451.7C641.5 452 642.9 453.5 644.5 454.4"/>
<path d="M615.5 270.5C616.1 267.7 616.6 264.5 618.7 262.4C621.3 259.8 624.8 257.8 628.4 257.6C633.9 257.3 639.5 258.6 644.5 260.8C650.5 263.5 655.7 267.7 660.6 272.1C665.4 276.4 669.8 281.3 673.5 286.6C676.9 291.6 679.5 297.1 681.6 302.7C683 306.3 684.4 310.2 684 314C683.8 316.3 682.1 318.7 680 319.7C677.1 321.1 673.5 320.8 670.3 320.5C665.9 320 661.6 318.6 657.4 317.3C654.6 316.4 651.3 316.2 649.4 314C647.6 311.9 649.1 308.4 647.7 306C646.7 304.3 644.7 303.5 642.9 302.7C638.2 300.7 632.8 300.5 628.4 297.9C624.5 295.5 621.2 292 618.7 288.2C616.8 285.4 616.1 281.9 615.5 278.5C615 275.9 615 273.1 615.5 270.5Z"/>
<path d="M615.5 489.1C616.1 491.9 616.6 495.1 618.7 497.2C621.3 499.8 624.8 501.8 628.4 502C633.9 502.3 639.5 501 644.5 498.8C650.5 496.1 655.7 491.9 660.6 487.5C665.4 483.2 669.8 478.3 673.5 473C676.9 468 679.5 462.5 681.6 456.9C683 453.3 684.4 449.4 684 445.6C683.8 443.3 682.1 440.9 680 439.9C677.1 438.5 673.5 438.8 670.3 439.1C665.9 439.6 661.6 441 657.4 442.3C654.6 443.2 651.3 443.4 649.4 445.6C647.6 447.7 649.1 451.2 647.7 453.6C646.7 455.3 644.7 456.1 642.9 456.9C638.2 458.9 632.8 459.1 628.4 461.7C624.5 464.1 621.2 467.6 618.7 471.4C616.8 474.2 616.1 477.7 615.5 481.1C615 483.7 615 486.5 615.5 489.1Z"/>
<path d="M632 258.3C638.9 261.3 646.4 263.1 652.6 267.3C658.9 271.6 664.1 277.3 668.7 283.4C672.3 288.2 675.1 293.7 676.8 299.5C678.6 305.7 678.4 312.4 679.2 318.9"/>
<path d="M632 501.3C638.9 498.3 646.4 496.5 652.6 492.3C658.9 488 664.1 482.3 668.7 476.2C672.3 471.4 675.1 465.9 676.8 460.1C678.6 453.9 678.4 447.2 679.2 440.7"/>
<path d="M622.7 275.3C622.7 272.5 624.5 269.7 626.8 268.1C630 265.9 634.2 264.5 638.1 264.8C642.2 265.1 646.4 266.9 649.4 269.7C652.3 272.4 654.1 276.3 655 280.2C655.8 283.9 655.8 288.1 654.2 291.5C653.1 294 650.4 295.9 647.7 296.3C643.9 296.8 639.9 295.7 636.5 293.9C632.6 291.8 629.4 288.5 626.8 285C624.7 282.2 622.7 278.8 622.7 275.3Z"/>
<path d="M622.7 484.3C622.7 487.1 624.5 489.9 626.8 491.5C630 493.7 634.2 495.1 638.1 494.8C642.2 494.5 646.4 492.7 649.4 489.9C652.3 487.2 654.1 483.3 655 479.4C655.8 475.7 655.8 471.5 654.2 468.1C653.1 465.6 650.4 463.7 647.7 463.3C643.9 462.8 639.9 463.9 636.5 465.7C632.6 467.8 629.4 471.1 626.8 474.6C624.7 477.4 622.7 480.8 622.7 484.3Z"/>
<path d="M631.6 268.1C635.4 270 639.9 270.7 642.9 273.7C645.9 276.7 647.9 280.8 648.5 285C649 288.8 646.9 292.5 646.1 296.3"/>
<path d="M631.6 491.5C635.4 489.6 639.9 488.9 642.9 485.9C645.9 482.9 647.9 478.8 648.5 474.6C649 470.8 646.9 467.1 646.1 463.3"/>
<path d="M663.1 284.2L669.5 292.3L668.7 297.1L661.5 296.3C661.2 294.4 660.3 292.5 660.6 290.6C660.9 288.3 662.3 286.3 663.1 284.2Z"/>
<path d="M663.1 475.4L669.5 467.3L668.7 462.5L661.5 463.3C661.2 465.2 660.3 467.1 660.6 469C660.9 471.3 662.3 473.3 663.1 475.4Z"/>
<path d="M653.4 299.5C654.7 298 657.1 296.5 659 297.1C661.4 297.8 662.5 300.6 663.9 302.7C665.5 305.2 667.9 307.8 667.9 310.8C667.9 312.4 665.5 313.2 663.9 313.2C661.1 313.2 658 312.5 655.8 310.8C653.9 309.3 653.1 306.7 652.6 304.4C652.3 302.8 652.3 300.7 653.4 299.5Z"/>
<path d="M653.4 460.1C654.7 461.6 657.1 463.1 659 462.5C661.4 461.8 662.5 459 663.9 456.9C665.5 454.4 667.9 451.8 667.9 448.8C667.9 447.2 665.5 446.4 663.9 446.4C661.1 446.4 658 447.1 655.8 448.8C653.9 450.3 653.1 452.9 652.6 455.2C652.3 456.8 652.3 458.9 653.4 460.1Z"/>
<path d="M661.5 379.8L662.3 373.4L670.3 374.2C671.9 376.1 675.2 377.3 675.2 379.8C675.2 382.3 671.9 383.5 670.3 385.4L662.3 386.2L661.5 379.8"/>
</g>
<g id="front">
<path d="M827.6 326.1C836 306 848 290 860.6 281.8C876 278.5 900 277.5 933.7 276.9C967 277.5 991 278.5 1006.8 281.8C1019 290 1031 306 1039.8 326.1L1008.4 324.5C1007 310 1001 298 991 296C975 292 955 290.5 933.7 290.5C912 290.5 892 292 876 296C866 298 860.5 310 859 324.5Z" style="fill:url(#hatch);stroke:none"/>
<path d="M822.7 324.5C824.6 320.2 826.2 315.8 828.4 311.6C831.9 305 835.4 298.4 839.7 292.3C843 287.6 846.7 283.1 851 279.4C854.8 276.1 859.2 273.3 863.9 271.3C868 269.5 872.4 268.4 876.8 268.1C895.7 266.9 914.7 267.2 933.7 266.8C952.7 267.2 971.7 266.9 990.6 268.1C995 268.4 999.4 269.5 1003.5 271.3C1008.2 273.3 1012.6 276.1 1016.4 279.4C1020.7 283.1 1024.4 287.6 1027.7 292.3C1032 298.4 1035.5 305 1039 311.6C1041.2 315.8 1042.8 320.2 1044.7 324.5"/>
<path d="M825.2 324.5C827.9 319.1 830.2 313.6 833.2 308.4C836.7 302.3 840 296 844.5 290.6C847.6 286.8 851.4 283.3 855.8 281C860.2 278.6 865.3 277.3 870.3 276.9C891.4 275.1 912.6 275.3 933.7 274.5C954.8 275.3 976 275.1 997.1 276.9C1002.1 277.3 1007.2 278.6 1011.6 281C1016 283.3 1019.8 286.8 1022.9 290.6C1027.4 296 1030.7 302.3 1034.2 308.4C1037.2 313.6 1039.5 319.1 1042.2 324.5"/>
<path d="M827.6 326.1C830.6 319.7 833 313 836.5 306.8C839.7 301.1 843.1 295.3 847.7 290.6C851.3 286.9 855.8 283.7 860.6 281.8C865.7 279.8 871.3 279.4 876.8 279C895.7 277.7 914.7 277.6 933.7 276.9C952.7 277.6 971.7 277.7 990.6 279C996.1 279.4 1001.7 279.8 1006.8 281.8C1011.6 283.7 1016.1 286.9 1019.7 290.6C1024.3 295.3 1027.7 301.1 1030.9 306.8C1034.4 313 1036.8 319.7 1039.8 326.1"/>
<path d="M849.4 289L859 288.2C856.3 292.2 853.5 296.2 851 300.3C848.7 304 846.6 307.8 844.5 311.6C842.8 314.8 842.4 318.9 839.7 321.3C836.7 324 832.2 324.5 828.4 326.1" style="fill:#fff"/>
<path d="M1018 289L1008.4 288.2C1011.1 292.2 1013.9 296.2 1016.4 300.3C1018.7 304 1020.8 307.8 1022.9 311.6C1024.6 314.8 1025 318.9 1027.7 321.3C1030.7 324 1035.2 324.5 1039 326.1" style="fill:#fff"/>
<path d="M827.6 326.9C838.6 326.2 849.6 325.2 860.6 324.8C885 324 909.3 323.9 933.7 323.4C958.1 323.9 982.4 324 1006.8 324.8C1017.8 325.2 1028.8 326.2 1039.8 326.9"/>
<path d="M861.5 309C862.4 306.6 862.7 303.8 864.3 301.8C866.3 299.4 868.9 297.3 871.9 296.3C878.7 294.1 885.9 293.4 892.9 292.3C900 291.2 907.2 290.5 914.4 289.6"/>
<path d="M1005.9 309C1005 306.6 1004.7 303.8 1003.1 301.8C1001.1 299.4 998.5 297.3 995.5 296.3C988.7 294.1 981.5 293.4 974.5 292.3C967.4 291.2 960.2 290.5 953 289.6"/>
<path d="M859 324.5C859.5 320.7 859.3 316.8 860.6 313.2C862.1 309.1 864 305 867.1 301.9C869.2 299.9 872.3 299.1 875.2 298.7C880.5 298 886.1 297.6 891.3 298.7C893.9 299.3 896.2 301.3 897.7 303.5C900.1 306.9 901.3 310.9 902.6 314.8C903.5 317.7 903.7 320.7 904.2 323.7" style="fill:#fff"/>
<path d="M1008.4 324.5C1007.9 320.7 1008.1 316.8 1006.8 313.2C1005.3 309.1 1003.4 305 1000.3 301.9C998.2 299.9 995.1 299.1 992.2 298.7C986.9 298 981.3 297.6 976.1 298.7C973.5 299.3 971.2 301.3 969.7 303.5C967.3 306.9 966.1 310.9 964.8 314.8C963.9 317.7 963.7 320.7 963.2 323.7" style="fill:#fff"/>
<path d="M862.3 324.5C863.1 320.7 863.2 316.7 864.7 313.2C866.2 309.9 868.4 306.8 871.1 304.4C872.6 303 874.8 302.5 876.8 302.3C881.1 301.8 885.5 301.3 889.7 302.3C892 302.9 893.8 304.9 895.3 306.8C897.1 309.2 898.4 312 899.4 314.8C900.4 317.7 900.7 320.7 901.3 323.7"/>
<path d="M1005.1 324.5C1004.3 320.7 1004.2 316.7 1002.7 313.2C1001.2 309.9 999 306.8 996.3 304.4C994.8 303 992.6 302.5 990.6 302.3C986.3 301.8 981.9 301.3 977.7 302.3C975.4 302.9 973.6 304.9 972.1 306.8C970.3 309.2 969 312 968 314.8C967 317.7 966.7 320.7 966.1 323.7"/>
<path d="M904.7 319.7L962.7 319.7"/>
<rect x="914.4" y="285" width="38.7" height="10.5" rx="3.2" style="fill:#fff"/>
<path d="M915 292.2L952.5 292.2"/>
<circle cx="933.7" cy="284.2" r="2.3" style="fill:#fff"/>
<path d="M822.7 313.2C820.8 312.1 819.2 310.3 817.1 310C812.8 309.4 808.4 310 804.2 310.8C799.8 311.6 795.2 312.6 791.3 314.8C789.3 316 787.7 318.2 787.3 320.5C786.9 322.9 787.3 325.8 788.9 327.7C790.6 329.7 793.5 330.4 796.1 331C799.8 331.8 803.6 331.8 807.4 331.8C810.4 331.8 813.3 331.3 816.3 331"/>
<path d="M1044.7 313.2C1046.6 312.1 1048.2 310.3 1050.3 310C1054.6 309.4 1059 310 1063.2 310.8C1067.6 311.6 1072.2 312.6 1076.1 314.8C1078.1 316 1079.7 318.2 1080.1 320.5C1080.5 322.9 1080.1 325.8 1078.5 327.7C1076.8 329.7 1073.9 330.4 1071.3 331C1067.6 331.8 1063.8 331.8 1060 331.8C1057 331.8 1054.1 331.3 1051.1 331"/>
<path d="M791.3 317.3C795.6 316.2 799.8 314.6 804.2 314C807.9 313.5 811.8 313.3 815.5 314C816.6 314.2 817.1 315.7 817.9 316.5L816.3 320.5"/>
<path d="M1076.1 317.3C1071.8 316.2 1067.6 314.6 1063.2 314C1059.5 313.5 1055.6 313.3 1051.9 314C1050.8 314.2 1050.3 315.7 1049.5 316.5L1051.1 320.5"/>
<path d="M822.7 313.2C822.2 315.4 822.2 317.8 821.1 319.7C820 321.7 817.9 322.9 816.3 324.5L816.3 331L821.9 331C822.8 332 823.5 333.1 824.5 334C825.6 335 826.8 335.9 828 336.8"/>
<path d="M1044.7 313.2C1045.2 315.4 1045.2 317.8 1046.3 319.7C1047.4 321.7 1049.5 322.9 1051.1 324.5L1051.1 331L1045.5 331C1044.6 332 1043.9 333.1 1042.9 334C1041.8 335 1040.6 335.9 1039.4 336.8"/>
<path d="M849.4 343.5C850.6 342 851.5 340.2 853 339C854.8 337.6 856.8 336.4 859 335.8C862.1 334.9 865.4 334.6 868.7 334.5C890.4 334 912 334.2 933.7 334C955.4 334.2 977 334 998.7 334.5C1002 334.6 1005.3 334.9 1008.4 335.8C1010.6 336.4 1012.6 337.6 1014.4 339C1015.9 340.2 1016.8 342 1018 343.5"/>
<path d="M816.3 331.6C812.3 334.3 807.9 336.6 804.2 339.7C800.9 342.5 797.6 345.7 795.3 349.4C793.5 352.3 792.6 355.7 792.1 359C791.5 363.3 792 367.6 792.1 371.9C792.3 379.4 792.4 387 792.9 394.5C793.4 401.7 794.7 408.9 795.3 416.1C795.8 421.5 796.1 426.9 796.1 432.3C796.1 435.5 796 438.8 795.3 441.9C794.8 444.2 793.5 446.2 792.6 448.4L794.5 452.6"/>
<path d="M1051.1 331.6C1055.1 334.3 1059.5 336.6 1063.2 339.7C1066.5 342.5 1069.8 345.7 1072.1 349.4C1073.9 352.3 1074.8 355.7 1075.3 359C1075.9 363.3 1075.4 367.6 1075.3 371.9C1075.1 379.4 1075 387 1074.5 394.5C1074 401.7 1072.7 408.9 1072.1 416.1C1071.6 421.5 1071.3 426.9 1071.3 432.3C1071.3 435.5 1071.4 438.8 1072.1 441.9C1072.6 444.2 1073.9 446.2 1074.8 448.4L1072.9 452.6"/>
<path d="M794.5 452.8L1072.9 452.8"/>
<path d="M792.1 359L801 355.8C801.5 358 802.1 360.1 802.6 362.3C803.7 367.7 804.7 373 805.8 378.4C806.9 383.8 807 389.4 809 394.5C810.3 397.7 812.7 400.6 815.5 402.6C817.8 404.2 820.7 404.9 823.5 405C836.4 405.5 849.4 404.7 862.3 404.5L869.7 398.4L933.7 398.4L997.7 398.4L1005.1 404.5C1018 404.7 1031 405.5 1043.9 405C1046.7 404.9 1049.6 404.2 1051.9 402.6C1054.7 400.6 1057.1 397.7 1058.4 394.5C1060.4 389.4 1060.5 383.8 1061.6 378.4C1062.7 373 1063.7 367.7 1064.8 362.3C1065.3 360.1 1065.9 358 1066.4 355.8L1075.3 359"/>
<path d="M810 345C811.1 343 812.4 340.9 814.4 339.7C817.3 338 820.7 337.1 824 336.8C827.2 336.5 830.5 336.9 833.7 337.7C837.1 338.5 840.3 340 843.4 341.6C846.8 343.3 850.1 345.1 853.1 347.4C856.6 350 859.8 352.9 862.8 356.1C865 358.5 866.9 361.1 868.6 363.9C870.1 366.3 871.7 368.8 872.4 371.6C872.9 373.7 872.8 376 872 378C871.2 379.9 869.7 381.5 868 382.5C866.2 383.6 864.1 383.9 862 384C852.6 384.5 843.1 384.9 833.7 384.2C830 383.9 826.4 382.9 823.1 381.3C819.8 379.6 816.9 377.2 814.4 374.5C812.3 372.3 810.6 369.6 809.5 366.8C808.5 364.4 808.3 361.6 808.1 359C807.9 356.5 808 354 808.3 351.5C808.6 349.3 809 347 810 345Z"/>
<path d="M1057.4 345C1056.3 343 1055 340.9 1053 339.7C1050.1 338 1046.7 337.1 1043.4 336.8C1040.2 336.5 1036.9 336.9 1033.7 337.7C1030.3 338.5 1027.1 340 1024 341.6C1020.6 343.3 1017.3 345.1 1014.3 347.4C1010.8 350 1007.6 352.9 1004.6 356.1C1002.4 358.5 1000.5 361.1 998.8 363.9C997.3 366.3 995.7 368.8 995 371.6C994.5 373.7 994.6 376 995.4 378C996.2 379.9 997.7 381.5 999.4 382.5C1001.2 383.6 1003.3 383.9 1005.4 384C1014.8 384.5 1024.3 384.9 1033.7 384.2C1037.4 383.9 1041 382.9 1044.3 381.3C1047.6 379.6 1050.5 377.2 1053 374.5C1055.1 372.3 1056.8 369.6 1057.9 366.8C1058.9 364.4 1059.1 361.6 1059.3 359C1059.5 356.5 1059.4 354 1059.1 351.5C1058.8 349.3 1058.4 347 1057.4 345Z"/>
<path d="M827.9 341.6C831.5 342.3 835.3 342.2 838.6 343.6C841.6 344.9 844.3 346.9 846.3 349.4C848 351.6 848.3 354.5 849.2 357.1C849.7 358.6 850.2 360 850.7 361.5C853.1 361.8 855.5 362 857.9 362.4C860.8 362.9 864 362.9 866.6 364.4C868.5 365.5 869.7 367.7 870.5 369.7C871.2 371.5 871.3 373.6 871 375.5C870.7 377.3 869.9 379.1 868.6 380.3C867 381.7 864.9 382.8 862.8 383C856.4 383.7 849.9 383.2 843.4 383C839.6 382.9 835.7 382.9 832 382.2C829.2 381.7 826.4 380.9 824 379.4C820.4 377 817 374.1 814.4 370.7C812.4 368.2 811.1 365 810.5 361.9C810 359.4 810.2 356.7 811 354.2C811.9 351.4 813.4 348.7 815.3 346.5C816.8 344.7 818.9 343.4 821.1 342.6C823.2 341.8 825.6 341.9 827.9 341.6"/>
<path d="M1039.5 341.6C1035.9 342.3 1032.1 342.2 1028.8 343.6C1025.8 344.9 1023.1 346.9 1021.1 349.4C1019.4 351.6 1019.1 354.5 1018.2 357.1C1017.7 358.6 1017.2 360 1016.7 361.5C1014.3 361.8 1011.9 362 1009.5 362.4C1006.6 362.9 1003.4 362.9 1000.8 364.4C998.9 365.5 997.7 367.7 996.9 369.7C996.2 371.5 996.1 373.6 996.4 375.5C996.7 377.3 997.5 379.1 998.8 380.3C1000.4 381.7 1002.5 382.8 1004.6 383C1011 383.7 1017.5 383.2 1024 383C1027.8 382.9 1031.7 382.9 1035.4 382.2C1038.2 381.7 1041 380.9 1043.4 379.4C1047 377 1050.4 374.1 1053 370.7C1055 368.2 1056.3 365 1056.9 361.9C1057.4 359.4 1057.2 356.7 1056.4 354.2C1055.5 351.4 1054 348.7 1052.1 346.5C1050.6 344.7 1048.5 343.4 1046.3 342.6C1044.2 341.8 1041.8 341.9 1039.5 341.6"/>
<circle cx="829.8" cy="359.6" r="13.9" style="stroke-width:1.5"/><circle cx="1037.6" cy="359.6" r="13.9" style="stroke-width:1.5"/>
<rect x="842" y="366.3" width="19.8" height="10.2" rx="4.4"/><rect x="1005.6" y="366.3" width="19.8" height="10.2" rx="4.4"/>
<path d="M845.5 367.6L858.5 367.6" style="stroke-width:0.8"/>
<path d="M1021.9 367.6L1008.9 367.6" style="stroke-width:0.8"/>
<ellipse cx="839" cy="375.5" rx="2.9" ry="1.5"/><ellipse cx="1028.4" cy="375.5" rx="2.9" ry="1.5"/>
<path d="M871.9 372.5L995.5 372.5"/>
<path d="M872.5 384L994.9 384"/>
<path d="M927.4 361.5Q927.4 359.4 930 359.4L937.4 359.4Q939.9 359.4 939.9 361.5Q939.9 367.8 933.7 367.8Q927.4 367.8 927.4 361.5Z"/>
<path d="M820.3 410L876.1 409.5L882.6 405.8L933.7 405.8L984.8 405.8L991.3 409.5L1047.1 410"/>
<path d="M820.3 410C819.5 411.8 818.1 413.4 817.9 415.3C817.8 417 818.4 418.9 819.5 420.2C820.4 421.3 822.1 421.7 823.5 421.7C843.9 422 864.4 421.3 884.8 421.1L889.5 418"/>
<path d="M1047.1 410C1047.9 411.8 1049.3 413.4 1049.5 415.3C1049.6 417 1049 418.9 1047.9 420.2C1047 421.3 1045.3 421.7 1043.9 421.7C1023.5 422 1003 421.3 982.6 421.1L977.9 418"/>
<rect x="822.3" y="412.1" width="63.3" height="8" rx="4" style="fill:url(#mesh);stroke:#111;stroke-width:1"/>
<rect x="981.8" y="412.1" width="63.3" height="8" rx="4" style="fill:url(#mesh);stroke:#111;stroke-width:1"/>
<path d="M823.5 424.6L825.5 423.4L885.5 422.8L892 418.6L975.4 418.6L981.9 422.8L1041.9 423.4L1043.9 424.6L1040.6 426.6C1036 430.5 1030 432.6 1022.9 433.1L933.7 433.9L844.5 433.1C837 432.6 831 430.5 826.8 426.6Z" style="fill:url(#mesh);stroke:#111;stroke-width:1"/>
<path d="M792.9 372.7C794 373 795.9 372.4 796.1 373.5C797.6 380.4 796.2 387.6 797.7 394.5C798.9 400.2 801.5 405.5 804.2 410.6C805.5 413.1 807.9 414.9 809.8 417.1"/>
<path d="M1074.5 372.7C1073.4 373 1071.5 372.4 1071.3 373.5C1069.8 380.4 1071.2 387.6 1069.7 394.5C1068.5 400.2 1065.9 405.5 1063.2 410.6C1061.9 413.1 1059.5 414.9 1057.6 417.1"/>
<path d="M796.9 424.2C799.3 424.7 801.9 424.9 804.2 425.8C809.7 427.9 814.7 431.2 820.3 433.1C826.6 435.2 833 437.6 839.7 437.9C871 439.4 902.4 438.2 933.7 438.4C965 438.2 996.4 439.4 1027.7 437.9C1034.4 437.6 1040.8 435.2 1047.1 433.1C1052.7 431.2 1057.7 427.9 1063.2 425.8C1065.5 424.9 1068.1 424.7 1070.5 424.2"/>
<path d="M799.4 440.3C801 441.7 802.3 443.5 804.2 444.4C806.7 445.6 809.5 446.4 812.3 446.5C852.8 447.2 893.2 446.7 933.7 446.8C974.2 446.7 1014.6 447.2 1055.1 446.5C1057.9 446.4 1060.7 445.6 1063.2 444.4C1065.1 443.5 1066.4 441.7 1068 440.3"/>
<path d="M795.5 453.2C795.7 455.8 795.5 458.4 796 461C796.4 462.9 797 464.8 798 466.5C798.8 468 800.2 469 801.3 470.3L845.1 470.3L847.7 468.8C848 468 848.6 467.3 848.7 466.4C849 462 848.7 457.6 848.7 453.2"/>
<path d="M1071.9 453.2C1071.7 455.8 1071.9 458.4 1071.4 461C1071 462.9 1070.4 464.8 1069.4 466.5C1068.6 468 1067.2 469 1066.1 470.3L1022.3 470.3L1019.7 468.8C1019.4 468 1018.8 467.3 1018.7 466.4C1018.4 462 1018.7 457.6 1018.7 453.2"/>
<path d="M798.7 453.5L798.7 470" style="stroke-width:0.8"/>
<path d="M1068.7 453.5L1068.7 470" style="stroke-width:0.8"/>
<path d="M803.9 453.5L803.9 470" style="stroke-width:0.8"/>
<path d="M1063.5 453.5L1063.5 470" style="stroke-width:0.8"/>
<path d="M806.5 453.5L806.5 470" style="stroke-width:0.8"/>
<path d="M1060.9 453.5L1060.9 470" style="stroke-width:0.8"/>
<path d="M814.6 453.5L814.6 470" style="stroke-width:0.8"/>
<path d="M1052.8 453.5L1052.8 470" style="stroke-width:0.8"/>
<path d="M821.4 453.5L821.4 470" style="stroke-width:0.8"/>
<path d="M1046 453.5L1046 470" style="stroke-width:0.8"/>
<path d="M828.2 453.5L828.2 470" style="stroke-width:0.8"/>
<path d="M1039.2 453.5L1039.2 470" style="stroke-width:0.8"/>
<path d="M835.4 453.5L835.4 470" style="stroke-width:0.8"/>
<path d="M1032 453.5L1032 470" style="stroke-width:0.8"/>
<path d="M841.5 453.5L841.5 470" style="stroke-width:0.8"/>
<path d="M1025.9 453.5L1025.9 470" style="stroke-width:0.8"/>
<path d="M843.1 453.5L843.1 470" style="stroke-width:0.8"/>
<path d="M1024.3 453.5L1024.3 470" style="stroke-width:0.8"/>
<path d="M811.6 453.5L811.6 470" style="stroke-width:1.6;stroke:#999"/>
<path d="M1055.8 453.5L1055.8 470" style="stroke-width:1.6;stroke:#999"/>
<path d="M819.5 453.5L819.5 470" style="stroke-width:1.6;stroke:#999"/>
<path d="M1047.9 453.5L1047.9 470" style="stroke-width:1.6;stroke:#999"/>
<path d="M826.1 453.5L826.1 470" style="stroke-width:1.6;stroke:#999"/>
<path d="M1041.3 453.5L1041.3 470" style="stroke-width:1.6;stroke:#999"/>
<path d="M833.1 453.5L833.1 470" style="stroke-width:1.6;stroke:#999"/>
<path d="M1034.3 453.5L1034.3 470" style="stroke-width:1.6;stroke:#999"/>
<path d="M839.9 453.5L839.9 470" style="stroke-width:1.6;stroke:#999"/>
<path d="M1027.5 453.5L1027.5 470" style="stroke-width:1.6;stroke:#999"/>
</g>
</svg>
<div id="bar"><span id="dot"></span><div id="t1">Porsche 911 Cabriolet 2000</div><div id="t2">Vector blueprint option</div></div>
</body></html>
